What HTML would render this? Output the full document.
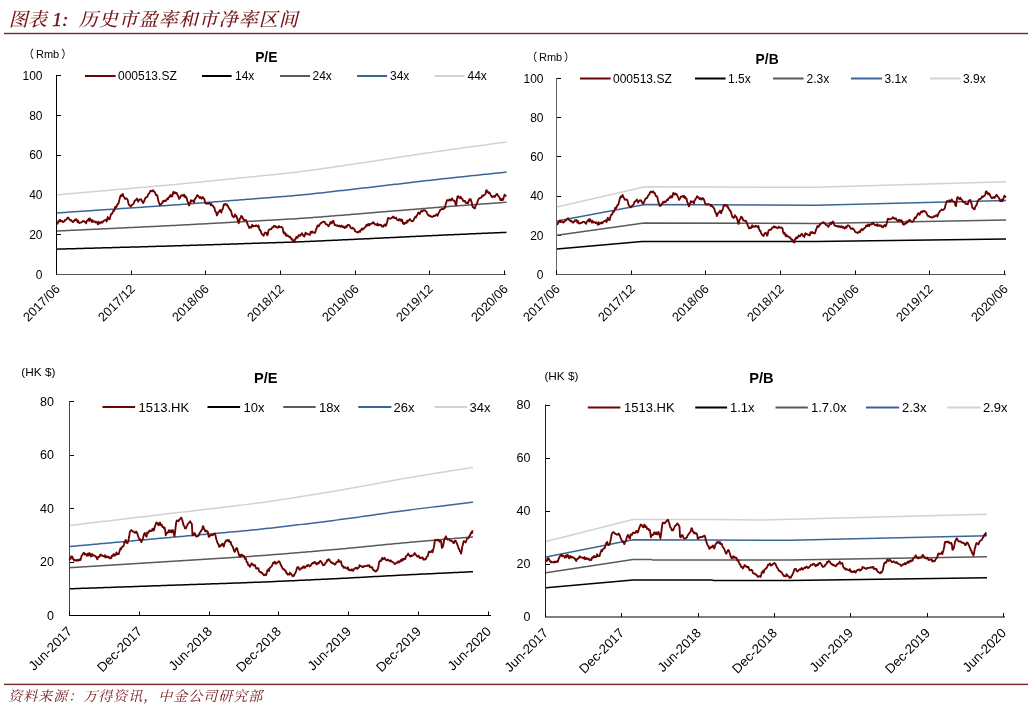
<!DOCTYPE html>
<html><head><meta charset="utf-8"><title>历史市盈率和市净率区间</title>
<style>html,body{margin:0;padding:0;background:#fff;}svg{display:block;}</style>
</head><body>
<svg width="1028" height="706" viewBox="0 0 1028 706" font-family='"Liberation Sans", Arial, sans-serif'>
<rect width="1028" height="706" fill="#fff"/>
<text x="8.8 27.8" y="26" font-size="19" fill="#761418" font-style="italic" font-weight="500" font-family='"Liberation Serif", "Noto Serif CJK SC", serif'>图表</text>
<text x="52.3" y="25.8" font-size="19.5" fill="#761418" font-style="italic" stroke="#761418" stroke-width="0.45" font-family='"Liberation Serif", "Noto Serif CJK SC", serif'>1:</text>
<text x="78.8 98.8 118.8 138.8 158.8 178.8 198.8 218.8 238.8 258.8 278.8" y="26" font-size="19" fill="#761418" font-style="italic" font-weight="500" font-family='"Liberation Serif", "Noto Serif CJK SC", serif'>历史市盈率和市净率区间</text>
<rect x="4" y="32.8" width="1024" height="1.4" fill="#7a2328"/>
<rect x="4" y="683.7" width="1024" height="1.4" fill="#7a2328"/>
<text x="8.3 23.3 38.3 53.3 68.3 83.3 98.3 113.3 128.3 143.3 158.3 173.3 188.3 203.3 218.3 233.3 248.3" y="701.3" font-size="14" fill="#761418" font-style="italic" font-family='"Liberation Serif", "Noto Serif CJK SC", serif'>资料来源：万得资讯，中金公司研究部</text>
<line x1="56.5" y1="75" x2="56.5" y2="274.5" stroke="#000" stroke-width="1"/>
<line x1="56" y1="274.5" x2="506" y2="274.5" stroke="#555" stroke-width="1"/>
<text x="42.5" y="278.8" font-size="12" text-anchor="end" font-weight="normal" fill="#000" >0</text>
<line x1="57" y1="234.5" x2="61" y2="234.5" stroke="#000" stroke-width="1"/>
<text x="42.5" y="239" font-size="12" text-anchor="end" font-weight="normal" fill="#000" >20</text>
<line x1="57" y1="194.5" x2="61" y2="194.5" stroke="#000" stroke-width="1"/>
<text x="42.5" y="199.2" font-size="12" text-anchor="end" font-weight="normal" fill="#000" >40</text>
<line x1="57" y1="155.5" x2="61" y2="155.5" stroke="#000" stroke-width="1"/>
<text x="42.5" y="159.4" font-size="12" text-anchor="end" font-weight="normal" fill="#000" >60</text>
<line x1="57" y1="115.5" x2="61" y2="115.5" stroke="#000" stroke-width="1"/>
<text x="42.5" y="119.6" font-size="12" text-anchor="end" font-weight="normal" fill="#000" >80</text>
<line x1="57" y1="75.5" x2="61" y2="75.5" stroke="#000" stroke-width="1"/>
<text x="42.5" y="79.8" font-size="12" text-anchor="end" font-weight="normal" fill="#000" >100</text>
<line x1="56.5" y1="270.5" x2="56.5" y2="274.5" stroke="#000" stroke-width="1"/>
<text class="xl" x="60.7" y="289.8" font-size="12.7" text-anchor="end" transform="rotate(-45 60.7 289.8)">2017/06</text>
<line x1="131.5" y1="270.5" x2="131.5" y2="274.5" stroke="#000" stroke-width="1"/>
<text class="xl" x="135.7" y="289.8" font-size="12.7" text-anchor="end" transform="rotate(-45 135.7 289.8)">2017/12</text>
<line x1="205.5" y1="270.5" x2="205.5" y2="274.5" stroke="#000" stroke-width="1"/>
<text class="xl" x="209.7" y="289.8" font-size="12.7" text-anchor="end" transform="rotate(-45 209.7 289.8)">2018/06</text>
<line x1="280.5" y1="270.5" x2="280.5" y2="274.5" stroke="#000" stroke-width="1"/>
<text class="xl" x="284.7" y="289.8" font-size="12.7" text-anchor="end" transform="rotate(-45 284.7 289.8)">2018/12</text>
<line x1="355.5" y1="270.5" x2="355.5" y2="274.5" stroke="#000" stroke-width="1"/>
<text class="xl" x="359.7" y="289.8" font-size="12.7" text-anchor="end" transform="rotate(-45 359.7 289.8)">2019/06</text>
<line x1="429.5" y1="270.5" x2="429.5" y2="274.5" stroke="#000" stroke-width="1"/>
<text class="xl" x="433.7" y="289.8" font-size="12.7" text-anchor="end" transform="rotate(-45 433.7 289.8)">2019/12</text>
<line x1="504.5" y1="270.5" x2="504.5" y2="274.5" stroke="#000" stroke-width="1"/>
<text class="xl" x="508.7" y="289.8" font-size="12.7" text-anchor="end" transform="rotate(-45 508.7 289.8)">2020/06</text>
<line x1="556.5" y1="78" x2="556.5" y2="274.5" stroke="#666" stroke-width="1"/>
<line x1="556" y1="274.5" x2="1006" y2="274.5" stroke="#555" stroke-width="1"/>
<text x="543.5" y="278.8" font-size="12" text-anchor="end" font-weight="normal" fill="#000" >0</text>
<line x1="557" y1="235.5" x2="561" y2="235.5" stroke="#000" stroke-width="1"/>
<text x="543.5" y="239.6" font-size="12" text-anchor="end" font-weight="normal" fill="#000" >20</text>
<line x1="557" y1="196.5" x2="561" y2="196.5" stroke="#000" stroke-width="1"/>
<text x="543.5" y="200.4" font-size="12" text-anchor="end" font-weight="normal" fill="#000" >40</text>
<line x1="557" y1="156.5" x2="561" y2="156.5" stroke="#000" stroke-width="1"/>
<text x="543.5" y="161.2" font-size="12" text-anchor="end" font-weight="normal" fill="#000" >60</text>
<line x1="557" y1="117.5" x2="561" y2="117.5" stroke="#000" stroke-width="1"/>
<text x="543.5" y="122" font-size="12" text-anchor="end" font-weight="normal" fill="#000" >80</text>
<line x1="557" y1="78.5" x2="561" y2="78.5" stroke="#000" stroke-width="1"/>
<text x="543.5" y="82.8" font-size="12" text-anchor="end" font-weight="normal" fill="#000" >100</text>
<line x1="556.5" y1="270.5" x2="556.5" y2="274.5" stroke="#000" stroke-width="1"/>
<text class="xl" x="560.7" y="289.8" font-size="12.7" text-anchor="end" transform="rotate(-45 560.7 289.8)">2017/06</text>
<line x1="631.5" y1="270.5" x2="631.5" y2="274.5" stroke="#000" stroke-width="1"/>
<text class="xl" x="635.7" y="289.8" font-size="12.7" text-anchor="end" transform="rotate(-45 635.7 289.8)">2017/12</text>
<line x1="705.5" y1="270.5" x2="705.5" y2="274.5" stroke="#000" stroke-width="1"/>
<text class="xl" x="709.7" y="289.8" font-size="12.7" text-anchor="end" transform="rotate(-45 709.7 289.8)">2018/06</text>
<line x1="780.5" y1="270.5" x2="780.5" y2="274.5" stroke="#000" stroke-width="1"/>
<text class="xl" x="784.7" y="289.8" font-size="12.7" text-anchor="end" transform="rotate(-45 784.7 289.8)">2018/12</text>
<line x1="855.5" y1="270.5" x2="855.5" y2="274.5" stroke="#000" stroke-width="1"/>
<text class="xl" x="859.7" y="289.8" font-size="12.7" text-anchor="end" transform="rotate(-45 859.7 289.8)">2019/06</text>
<line x1="929.5" y1="270.5" x2="929.5" y2="274.5" stroke="#000" stroke-width="1"/>
<text class="xl" x="933.7" y="289.8" font-size="12.7" text-anchor="end" transform="rotate(-45 933.7 289.8)">2019/12</text>
<line x1="1004.5" y1="270.5" x2="1004.5" y2="274.5" stroke="#000" stroke-width="1"/>
<text class="xl" x="1008.7" y="289.8" font-size="12.7" text-anchor="end" transform="rotate(-45 1008.7 289.8)">2020/06</text>
<line x1="69.5" y1="401" x2="69.5" y2="615.5" stroke="#444" stroke-width="1"/>
<line x1="69" y1="615.5" x2="491" y2="615.5" stroke="#000" stroke-width="1"/>
<text x="54" y="619.8" font-size="12.5" text-anchor="end" font-weight="normal" fill="#000" >0</text>
<line x1="70" y1="562.5" x2="74" y2="562.5" stroke="#000" stroke-width="1"/>
<text x="54" y="566.3" font-size="12.5" text-anchor="end" font-weight="normal" fill="#000" >20</text>
<line x1="70" y1="508.5" x2="74" y2="508.5" stroke="#000" stroke-width="1"/>
<text x="54" y="512.8" font-size="12.5" text-anchor="end" font-weight="normal" fill="#000" >40</text>
<line x1="70" y1="455.5" x2="74" y2="455.5" stroke="#000" stroke-width="1"/>
<text x="54" y="459.3" font-size="12.5" text-anchor="end" font-weight="normal" fill="#000" >60</text>
<line x1="70" y1="401.5" x2="74" y2="401.5" stroke="#000" stroke-width="1"/>
<text x="54" y="405.8" font-size="12.5" text-anchor="end" font-weight="normal" fill="#000" >80</text>
<line x1="69.5" y1="611.5" x2="69.5" y2="615.5" stroke="#000" stroke-width="1"/>
<text class="xl" x="73" y="632.3" font-size="13.2" text-anchor="end" transform="rotate(-45 73 632.3)">Jun-2017</text>
<line x1="139.5" y1="611.5" x2="139.5" y2="615.5" stroke="#000" stroke-width="1"/>
<text class="xl" x="143" y="632.3" font-size="13.2" text-anchor="end" transform="rotate(-45 143 632.3)">Dec-2017</text>
<line x1="209.5" y1="611.5" x2="209.5" y2="615.5" stroke="#000" stroke-width="1"/>
<text class="xl" x="213" y="632.3" font-size="13.2" text-anchor="end" transform="rotate(-45 213 632.3)">Jun-2018</text>
<line x1="278.5" y1="611.5" x2="278.5" y2="615.5" stroke="#000" stroke-width="1"/>
<text class="xl" x="282" y="632.3" font-size="13.2" text-anchor="end" transform="rotate(-45 282 632.3)">Dec-2018</text>
<line x1="348.5" y1="611.5" x2="348.5" y2="615.5" stroke="#000" stroke-width="1"/>
<text class="xl" x="352" y="632.3" font-size="13.2" text-anchor="end" transform="rotate(-45 352 632.3)">Jun-2019</text>
<line x1="418.5" y1="611.5" x2="418.5" y2="615.5" stroke="#000" stroke-width="1"/>
<text class="xl" x="422" y="632.3" font-size="13.2" text-anchor="end" transform="rotate(-45 422 632.3)">Dec-2019</text>
<line x1="488.5" y1="611.5" x2="488.5" y2="615.5" stroke="#000" stroke-width="1"/>
<text class="xl" x="492" y="632.3" font-size="13.2" text-anchor="end" transform="rotate(-45 492 632.3)">Jun-2020</text>
<line x1="545.5" y1="404.5" x2="545.5" y2="617" stroke="#222" stroke-width="1"/>
<line x1="545" y1="617" x2="1005" y2="617" stroke="#000" stroke-width="1"/>
<text x="530.5" y="621.3" font-size="12.5" text-anchor="end" font-weight="normal" fill="#000" >0</text>
<line x1="546" y1="564.5" x2="550" y2="564.5" stroke="#000" stroke-width="1"/>
<text x="530.5" y="568.3" font-size="12.5" text-anchor="end" font-weight="normal" fill="#000" >20</text>
<line x1="546" y1="511.5" x2="550" y2="511.5" stroke="#000" stroke-width="1"/>
<text x="530.5" y="515.3" font-size="12.5" text-anchor="end" font-weight="normal" fill="#000" >40</text>
<line x1="546" y1="458.5" x2="550" y2="458.5" stroke="#000" stroke-width="1"/>
<text x="530.5" y="462.3" font-size="12.5" text-anchor="end" font-weight="normal" fill="#000" >60</text>
<line x1="546" y1="405.5" x2="550" y2="405.5" stroke="#000" stroke-width="1"/>
<text x="530.5" y="409.3" font-size="12.5" text-anchor="end" font-weight="normal" fill="#000" >80</text>
<line x1="545.5" y1="613" x2="545.5" y2="617" stroke="#000" stroke-width="1"/>
<text class="xl" x="549" y="633.8" font-size="13.2" text-anchor="end" transform="rotate(-45 549 633.8)">Jun-2017</text>
<line x1="621.5" y1="613" x2="621.5" y2="617" stroke="#000" stroke-width="1"/>
<text class="xl" x="625" y="633.8" font-size="13.2" text-anchor="end" transform="rotate(-45 625 633.8)">Dec-2017</text>
<line x1="698.5" y1="613" x2="698.5" y2="617" stroke="#000" stroke-width="1"/>
<text class="xl" x="702" y="633.8" font-size="13.2" text-anchor="end" transform="rotate(-45 702 633.8)">Jun-2018</text>
<line x1="774.5" y1="613" x2="774.5" y2="617" stroke="#000" stroke-width="1"/>
<text class="xl" x="778" y="633.8" font-size="13.2" text-anchor="end" transform="rotate(-45 778 633.8)">Dec-2018</text>
<line x1="850.5" y1="613" x2="850.5" y2="617" stroke="#000" stroke-width="1"/>
<text class="xl" x="854" y="633.8" font-size="13.2" text-anchor="end" transform="rotate(-45 854 633.8)">Jun-2019</text>
<line x1="927.5" y1="613" x2="927.5" y2="617" stroke="#000" stroke-width="1"/>
<text class="xl" x="931" y="633.8" font-size="13.2" text-anchor="end" transform="rotate(-45 931 633.8)">Dec-2019</text>
<line x1="1003.5" y1="613" x2="1003.5" y2="617" stroke="#000" stroke-width="1"/>
<text class="xl" x="1007" y="633.8" font-size="13.2" text-anchor="end" transform="rotate(-45 1007 633.8)">Jun-2020</text>
<path d="M57 194.8 L59 194.63 L61 194.46 L63 194.28 L65 194.11 L67 193.93 L69 193.76 L71 193.59 L73 193.41 L75 193.24 L77 193.07 L79 192.89 L81 192.72 L83 192.55 L85 192.37 L87 192.2 L89 192.02 L91 191.85 L93 191.68 L95 191.5 L97 191.33 L99 191.16 L101 190.98 L103 190.81 L105 190.63 L107 190.46 L109 190.29 L111 190.11 L113 189.94 L115 189.77 L117 189.59 L119 189.42 L121 189.25 L123 189.07 L125 188.9 L127 188.72 L129 188.55 L131 188.38 L133 188.2 L135 188.03 L137 187.86 L139 187.68 L141 187.51 L143 187.33 L145 187.16 L147 186.98 L149 186.81 L151 186.63 L153 186.46 L155 186.28 L157 186.1 L159 185.92 L161 185.75 L163 185.57 L165 185.39 L167 185.2 L169 185.02 L171 184.84 L173 184.65 L175 184.47 L177 184.28 L179 184.09 L181 183.9 L183 183.71 L185 183.51 L187 183.32 L189 183.12 L191 182.93 L193 182.73 L195 182.53 L197 182.33 L199 182.13 L201 181.93 L203 181.73 L205 181.52 L207 181.32 L209 181.12 L211 180.91 L213 180.71 L215 180.51 L217 180.3 L219 180.1 L221 179.9 L223 179.69 L225 179.49 L227 179.28 L229 179.08 L231 178.88 L233 178.67 L235 178.47 L237 178.27 L239 178.06 L241 177.86 L243 177.66 L245 177.46 L247 177.25 L249 177.05 L251 176.85 L253 176.65 L255 176.45 L257 176.25 L259 176.05 L261 175.85 L263 175.65 L265 175.45 L267 175.25 L269 175.05 L271 174.85 L273 174.65 L275 174.44 L277 174.24 L279 174.03 L281 173.83 L283 173.62 L285 173.41 L287 173.19 L289 172.97 L291 172.75 L293 172.53 L295 172.3 L297 172.06 L299 171.82 L301 171.58 L303 171.33 L305 171.08 L307 170.82 L309 170.56 L311 170.29 L313 170.02 L315 169.74 L317 169.46 L319 169.18 L321 168.89 L323 168.6 L325 168.31 L327 168.02 L329 167.73 L331 167.43 L333 167.14 L335 166.84 L337 166.54 L339 166.25 L341 165.95 L343 165.65 L345 165.35 L347 165.06 L349 164.76 L351 164.46 L353 164.16 L355 163.87 L357 163.57 L359 163.27 L361 162.97 L363 162.67 L365 162.38 L367 162.08 L369 161.78 L371 161.48 L373 161.18 L375 160.88 L377 160.58 L379 160.28 L381 159.97 L383 159.67 L385 159.37 L387 159.07 L389 158.76 L391 158.46 L393 158.16 L395 157.85 L397 157.55 L399 157.24 L401 156.94 L403 156.63 L405 156.33 L407 156.03 L409 155.72 L411 155.42 L413 155.11 L415 154.81 L417 154.51 L419 154.21 L421 153.91 L423 153.61 L425 153.31 L427 153.01 L429 152.72 L431 152.42 L433 152.13 L435 151.84 L437 151.55 L439 151.26 L441 150.97 L443 150.69 L445 150.4 L447 150.12 L449 149.84 L451 149.56 L453 149.28 L455 149 L457 148.73 L459 148.45 L461 148.18 L463 147.9 L465 147.63 L467 147.36 L469 147.09 L471 146.81 L473 146.54 L475 146.27 L477 146 L479 145.73 L481 145.46 L483 145.19 L485 144.92 L487 144.65 L489 144.38 L491 144.11 L493 143.84 L495 143.57 L497 143.3 L499 143.03 L501 142.76 L503 142.49 L505 142.22 L506.5 142.01" fill="none" stroke="#d2d2d2" stroke-width="1.5" stroke-linejoin="round" />
<path d="M57 212.92 L59 212.78 L61 212.65 L63 212.51 L65 212.38 L67 212.24 L69 212.11 L71 211.98 L73 211.84 L75 211.71 L77 211.57 L79 211.44 L81 211.31 L83 211.17 L85 211.04 L87 210.9 L89 210.77 L91 210.63 L93 210.5 L95 210.37 L97 210.23 L99 210.1 L101 209.96 L103 209.83 L105 209.7 L107 209.56 L109 209.43 L111 209.29 L113 209.16 L115 209.02 L117 208.89 L119 208.76 L121 208.62 L123 208.49 L125 208.35 L127 208.22 L129 208.08 L131 207.95 L133 207.82 L135 207.68 L137 207.55 L139 207.41 L141 207.28 L143 207.14 L145 207.01 L147 206.87 L149 206.74 L151 206.6 L153 206.47 L155 206.33 L157 206.19 L159 206.06 L161 205.92 L163 205.78 L165 205.64 L167 205.5 L169 205.36 L171 205.22 L173 205.07 L175 204.93 L177 204.78 L179 204.64 L181 204.49 L183 204.34 L185 204.19 L187 204.04 L189 203.89 L191 203.74 L193 203.58 L195 203.43 L197 203.28 L199 203.12 L201 202.97 L203 202.81 L205 202.65 L207 202.5 L209 202.34 L211 202.18 L213 202.03 L215 201.87 L217 201.71 L219 201.55 L221 201.4 L223 201.24 L225 201.08 L227 200.92 L229 200.77 L231 200.61 L233 200.45 L235 200.29 L237 200.14 L239 199.98 L241 199.82 L243 199.67 L245 199.51 L247 199.36 L249 199.2 L251 199.04 L253 198.89 L255 198.73 L257 198.58 L259 198.42 L261 198.27 L263 198.11 L265 197.96 L267 197.81 L269 197.65 L271 197.5 L273 197.34 L275 197.18 L277 197.03 L279 196.87 L281 196.71 L283 196.55 L285 196.38 L287 196.22 L289 196.05 L291 195.88 L293 195.7 L295 195.53 L297 195.34 L299 195.16 L301 194.97 L303 194.78 L305 194.58 L307 194.38 L309 194.18 L311 193.97 L313 193.76 L315 193.55 L317 193.33 L319 193.11 L321 192.89 L323 192.67 L325 192.45 L327 192.22 L329 191.99 L331 191.77 L333 191.54 L335 191.31 L337 191.08 L339 190.85 L341 190.62 L343 190.39 L345 190.16 L347 189.93 L349 189.7 L351 189.47 L353 189.24 L355 189.01 L357 188.78 L359 188.55 L361 188.32 L363 188.09 L365 187.86 L367 187.63 L369 187.4 L371 187.17 L373 186.93 L375 186.7 L377 186.47 L379 186.24 L381 186 L383 185.77 L385 185.54 L387 185.3 L389 185.07 L391 184.83 L393 184.6 L395 184.36 L397 184.13 L399 183.89 L401 183.66 L403 183.42 L405 183.19 L407 182.95 L409 182.72 L411 182.48 L413 182.25 L415 182.01 L417 181.78 L419 181.55 L421 181.31 L423 181.08 L425 180.85 L427 180.62 L429 180.39 L431 180.17 L433 179.94 L435 179.71 L437 179.49 L439 179.27 L441 179.05 L443 178.83 L445 178.61 L447 178.39 L449 178.17 L451 177.95 L453 177.74 L455 177.53 L457 177.31 L459 177.1 L461 176.89 L463 176.68 L465 176.46 L467 176.25 L469 176.04 L471 175.83 L473 175.62 L475 175.41 L477 175.21 L479 175 L481 174.79 L483 174.58 L485 174.37 L487 174.16 L489 173.95 L491 173.74 L493 173.53 L495 173.32 L497 173.12 L499 172.91 L501 172.7 L503 172.49 L505 172.28 L506.5 172.12" fill="none" stroke="#3b6598" stroke-width="1.5" stroke-linejoin="round" />
<path d="M57 231.03 L59 230.93 L61 230.84 L63 230.74 L65 230.65 L67 230.56 L69 230.46 L71 230.37 L73 230.27 L75 230.18 L77 230.08 L79 229.99 L81 229.89 L83 229.8 L85 229.7 L87 229.61 L89 229.51 L91 229.42 L93 229.32 L95 229.23 L97 229.13 L99 229.04 L101 228.94 L103 228.85 L105 228.76 L107 228.66 L109 228.57 L111 228.47 L113 228.38 L115 228.28 L117 228.19 L119 228.09 L121 228 L123 227.9 L125 227.81 L127 227.71 L129 227.62 L131 227.52 L133 227.43 L135 227.33 L137 227.24 L139 227.14 L141 227.05 L143 226.95 L145 226.86 L147 226.76 L149 226.67 L151 226.57 L153 226.48 L155 226.38 L157 226.28 L159 226.19 L161 226.09 L163 225.99 L165 225.89 L167 225.79 L169 225.69 L171 225.59 L173 225.49 L175 225.39 L177 225.29 L179 225.18 L181 225.08 L183 224.98 L185 224.87 L187 224.76 L189 224.66 L191 224.55 L193 224.44 L195 224.33 L197 224.22 L199 224.12 L201 224.01 L203 223.9 L205 223.79 L207 223.67 L209 223.56 L211 223.45 L213 223.34 L215 223.23 L217 223.12 L219 223.01 L221 222.9 L223 222.79 L225 222.68 L227 222.56 L229 222.45 L231 222.34 L233 222.23 L235 222.12 L237 222.01 L239 221.9 L241 221.79 L243 221.68 L245 221.57 L247 221.46 L249 221.35 L251 221.24 L253 221.13 L255 221.02 L257 220.91 L259 220.8 L261 220.69 L263 220.58 L265 220.47 L267 220.36 L269 220.25 L271 220.14 L273 220.03 L275 219.92 L277 219.81 L279 219.7 L281 219.59 L283 219.47 L285 219.36 L287 219.24 L289 219.12 L291 219 L293 218.88 L295 218.75 L297 218.63 L299 218.5 L301 218.36 L303 218.23 L305 218.09 L307 217.95 L309 217.8 L311 217.66 L313 217.51 L315 217.36 L317 217.21 L319 217.05 L321 216.9 L323 216.74 L325 216.58 L327 216.42 L329 216.26 L331 216.1 L333 215.94 L335 215.78 L337 215.61 L339 215.45 L341 215.29 L343 215.13 L345 214.97 L347 214.8 L349 214.64 L351 214.48 L353 214.32 L355 214.15 L357 213.99 L359 213.83 L361 213.67 L363 213.5 L365 213.34 L367 213.18 L369 213.02 L371 212.85 L373 212.69 L375 212.52 L377 212.36 L379 212.2 L381 212.03 L383 211.87 L385 211.7 L387 211.54 L389 211.37 L391 211.21 L393 211.04 L395 210.87 L397 210.71 L399 210.54 L401 210.38 L403 210.21 L405 210.04 L407 209.88 L409 209.71 L411 209.55 L413 209.38 L415 209.22 L417 209.05 L419 208.89 L421 208.72 L423 208.56 L425 208.4 L427 208.23 L429 208.07 L431 207.91 L433 207.75 L435 207.59 L437 207.43 L439 207.28 L441 207.12 L443 206.96 L445 206.81 L447 206.66 L449 206.5 L451 206.35 L453 206.2 L455 206.05 L457 205.9 L459 205.75 L461 205.6 L463 205.45 L465 205.3 L467 205.15 L469 205 L471 204.85 L473 204.71 L475 204.56 L477 204.41 L479 204.26 L481 204.11 L483 203.97 L485 203.82 L487 203.67 L489 203.52 L491 203.38 L493 203.23 L495 203.08 L497 202.93 L499 202.79 L501 202.64 L503 202.49 L505 202.34 L506.5 202.23" fill="none" stroke="#5a5a5a" stroke-width="1.5" stroke-linejoin="round" />
<path d="M57 249.14 L59 249.09 L61 249.03 L63 248.98 L65 248.92 L67 248.87 L69 248.81 L71 248.76 L73 248.7 L75 248.64 L77 248.59 L79 248.53 L81 248.48 L83 248.42 L85 248.37 L87 248.31 L89 248.26 L91 248.2 L93 248.15 L95 248.09 L97 248.04 L99 247.98 L101 247.93 L103 247.87 L105 247.82 L107 247.76 L109 247.71 L111 247.65 L113 247.59 L115 247.54 L117 247.48 L119 247.43 L121 247.37 L123 247.32 L125 247.26 L127 247.21 L129 247.15 L131 247.1 L133 247.04 L135 246.99 L137 246.93 L139 246.88 L141 246.82 L143 246.76 L145 246.71 L147 246.65 L149 246.6 L151 246.54 L153 246.49 L155 246.43 L157 246.37 L159 246.32 L161 246.26 L163 246.2 L165 246.15 L167 246.09 L169 246.03 L171 245.97 L173 245.91 L175 245.85 L177 245.79 L179 245.73 L181 245.67 L183 245.61 L185 245.55 L187 245.49 L189 245.43 L191 245.36 L193 245.3 L195 245.24 L197 245.17 L199 245.11 L201 245.04 L203 244.98 L205 244.92 L207 244.85 L209 244.79 L211 244.72 L213 244.66 L215 244.59 L217 244.53 L219 244.46 L221 244.4 L223 244.33 L225 244.27 L227 244.2 L229 244.14 L231 244.07 L233 244.01 L235 243.94 L237 243.88 L239 243.82 L241 243.75 L243 243.69 L245 243.62 L247 243.56 L249 243.49 L251 243.43 L253 243.37 L255 243.3 L257 243.24 L259 243.17 L261 243.11 L263 243.05 L265 242.98 L267 242.92 L269 242.86 L271 242.79 L273 242.73 L275 242.66 L277 242.6 L279 242.53 L281 242.47 L283 242.4 L285 242.33 L287 242.27 L289 242.2 L291 242.13 L293 242.05 L295 241.98 L297 241.91 L299 241.83 L301 241.75 L303 241.67 L305 241.59 L307 241.51 L309 241.43 L311 241.34 L313 241.26 L315 241.17 L317 241.08 L319 240.99 L321 240.9 L323 240.81 L325 240.71 L327 240.62 L329 240.53 L331 240.43 L333 240.34 L335 240.24 L337 240.15 L339 240.06 L341 239.96 L343 239.87 L345 239.77 L347 239.68 L349 239.58 L351 239.49 L353 239.39 L355 239.3 L357 239.2 L359 239.11 L361 239.01 L363 238.92 L365 238.82 L367 238.73 L369 238.63 L371 238.54 L373 238.44 L375 238.35 L377 238.25 L379 238.16 L381 238.06 L383 237.96 L385 237.87 L387 237.77 L389 237.67 L391 237.58 L393 237.48 L395 237.38 L397 237.29 L399 237.19 L401 237.09 L403 237 L405 236.9 L407 236.8 L409 236.71 L411 236.61 L413 236.51 L415 236.42 L417 236.32 L419 236.23 L421 236.13 L423 236.03 L425 235.94 L427 235.84 L429 235.75 L431 235.66 L433 235.56 L435 235.47 L437 235.38 L439 235.29 L441 235.2 L443 235.1 L445 235.01 L447 234.92 L449 234.83 L451 234.75 L453 234.66 L455 234.57 L457 234.48 L459 234.39 L461 234.31 L463 234.22 L465 234.13 L467 234.05 L469 233.96 L471 233.87 L473 233.79 L475 233.7 L477 233.61 L479 233.53 L481 233.44 L483 233.36 L485 233.27 L487 233.18 L489 233.1 L491 233.01 L493 232.93 L495 232.84 L497 232.75 L499 232.67 L501 232.58 L503 232.5 L505 232.41 L506.5 232.35" fill="none" stroke="#000000" stroke-width="1.5" stroke-linejoin="round" />
<path d="M557 207 L645 186.8 L816 187.3 L1006 181.8" fill="none" stroke="#d2d2d2" stroke-width="1.5" stroke-linejoin="round" />
<path d="M557 221 L645 204.6 L816 205.2 L1006 200.5" fill="none" stroke="#3b6598" stroke-width="1.5" stroke-linejoin="round" />
<path d="M557 235.3 L644 223 L816 223.5 L1006 220" fill="none" stroke="#5a5a5a" stroke-width="1.5" stroke-linejoin="round" />
<path d="M557 249 L642 241.4 L816 241.5 L1006 239" fill="none" stroke="#000000" stroke-width="1.5" stroke-linejoin="round" />
<path d="M70 525.39 L72 525.16 L74 524.92 L76 524.68 L78 524.44 L80 524.21 L82 523.97 L84 523.73 L86 523.5 L88 523.26 L90 523.02 L92 522.79 L94 522.55 L96 522.31 L98 522.08 L100 521.84 L102 521.6 L104 521.36 L106 521.13 L108 520.89 L110 520.65 L112 520.42 L114 520.18 L116 519.94 L118 519.71 L120 519.47 L122 519.23 L124 519 L126 518.76 L128 518.52 L130 518.29 L132 518.05 L134 517.81 L136 517.57 L138 517.34 L140 517.1 L142 516.86 L144 516.63 L146 516.39 L148 516.15 L150 515.92 L152 515.68 L154 515.44 L156 515.21 L158 514.97 L160 514.73 L162 514.5 L164 514.26 L166 514.02 L168 513.79 L170 513.55 L172 513.31 L174 513.08 L176 512.84 L178 512.61 L180 512.37 L182 512.13 L184 511.9 L186 511.66 L188 511.43 L190 511.2 L192 510.96 L194 510.73 L196 510.5 L198 510.26 L200 510.03 L202 509.8 L204 509.57 L206 509.33 L208 509.1 L210 508.87 L212 508.64 L214 508.41 L216 508.18 L218 507.95 L220 507.72 L222 507.49 L224 507.25 L226 507.02 L228 506.79 L230 506.55 L232 506.32 L234 506.08 L236 505.84 L238 505.6 L240 505.36 L242 505.12 L244 504.87 L246 504.62 L248 504.37 L250 504.11 L252 503.85 L254 503.59 L256 503.32 L258 503.05 L260 502.78 L262 502.5 L264 502.22 L266 501.93 L268 501.64 L270 501.35 L272 501.06 L274 500.76 L276 500.46 L278 500.16 L280 499.86 L282 499.55 L284 499.25 L286 498.94 L288 498.63 L290 498.32 L292 498.01 L294 497.69 L296 497.38 L298 497.07 L300 496.75 L302 496.44 L304 496.12 L306 495.8 L308 495.48 L310 495.16 L312 494.84 L314 494.52 L316 494.19 L318 493.87 L320 493.54 L322 493.21 L324 492.88 L326 492.55 L328 492.22 L330 491.89 L332 491.55 L334 491.21 L336 490.87 L338 490.53 L340 490.19 L342 489.84 L344 489.5 L346 489.15 L348 488.79 L350 488.44 L352 488.08 L354 487.72 L356 487.36 L358 487 L360 486.63 L362 486.26 L364 485.89 L366 485.52 L368 485.15 L370 484.77 L372 484.4 L374 484.02 L376 483.64 L378 483.26 L380 482.89 L382 482.51 L384 482.14 L386 481.77 L388 481.39 L390 481.03 L392 480.66 L394 480.3 L396 479.93 L398 479.58 L400 479.22 L402 478.87 L404 478.52 L406 478.17 L408 477.83 L410 477.49 L412 477.15 L414 476.82 L416 476.48 L418 476.15 L420 475.82 L422 475.49 L424 475.17 L426 474.84 L428 474.52 L430 474.2 L432 473.88 L434 473.56 L436 473.24 L438 472.92 L440 472.6 L442 472.28 L444 471.96 L446 471.65 L448 471.33 L450 471.01 L452 470.7 L454 470.38 L456 470.07 L458 469.75 L460 469.44 L462 469.12 L464 468.81 L466 468.49 L468 468.18 L470 467.87 L472 467.55 L473 467.4" fill="none" stroke="#d2d2d2" stroke-width="1.5" stroke-linejoin="round" />
<path d="M70 546.52 L72 546.34 L74 546.16 L76 545.98 L78 545.8 L80 545.62 L82 545.44 L84 545.26 L86 545.07 L88 544.89 L90 544.71 L92 544.53 L94 544.35 L96 544.17 L98 543.99 L100 543.81 L102 543.62 L104 543.44 L106 543.26 L108 543.08 L110 542.9 L112 542.72 L114 542.54 L116 542.36 L118 542.18 L120 541.99 L122 541.81 L124 541.63 L126 541.45 L128 541.27 L130 541.09 L132 540.91 L134 540.73 L136 540.55 L138 540.36 L140 540.18 L142 540 L144 539.82 L146 539.64 L148 539.46 L150 539.28 L152 539.1 L154 538.91 L156 538.73 L158 538.55 L160 538.37 L162 538.19 L164 538.01 L166 537.83 L168 537.65 L170 537.47 L172 537.29 L174 537.11 L176 536.93 L178 536.75 L180 536.56 L182 536.38 L184 536.21 L186 536.03 L188 535.85 L190 535.67 L192 535.49 L194 535.31 L196 535.13 L198 534.95 L200 534.78 L202 534.6 L204 534.42 L206 534.24 L208 534.07 L210 533.89 L212 533.71 L214 533.54 L216 533.36 L218 533.18 L220 533.01 L222 532.83 L224 532.65 L226 532.48 L228 532.3 L230 532.12 L232 531.94 L234 531.76 L236 531.58 L238 531.39 L240 531.21 L242 531.02 L244 530.83 L246 530.64 L248 530.45 L250 530.25 L252 530.05 L254 529.85 L256 529.65 L258 529.44 L260 529.23 L262 529.02 L264 528.8 L266 528.58 L268 528.36 L270 528.14 L272 527.92 L274 527.69 L276 527.46 L278 527.23 L280 527 L282 526.76 L284 526.53 L286 526.29 L288 526.06 L290 525.82 L292 525.58 L294 525.34 L296 525.1 L298 524.86 L300 524.62 L302 524.38 L304 524.14 L306 523.89 L308 523.65 L310 523.41 L312 523.16 L314 522.91 L316 522.67 L318 522.42 L320 522.17 L322 521.92 L324 521.66 L326 521.41 L328 521.16 L330 520.9 L332 520.64 L334 520.39 L336 520.13 L338 519.87 L340 519.6 L342 519.34 L344 519.07 L346 518.81 L348 518.54 L350 518.27 L352 517.99 L354 517.72 L356 517.44 L358 517.16 L360 516.88 L362 516.6 L364 516.32 L366 516.03 L368 515.75 L370 515.46 L372 515.17 L374 514.89 L376 514.6 L378 514.31 L380 514.02 L382 513.73 L384 513.45 L386 513.16 L388 512.88 L390 512.6 L392 512.32 L394 512.04 L396 511.76 L398 511.49 L400 511.22 L402 510.95 L404 510.68 L406 510.42 L408 510.15 L410 509.89 L412 509.63 L414 509.38 L416 509.12 L418 508.87 L420 508.62 L422 508.37 L424 508.12 L426 507.87 L428 507.62 L430 507.37 L432 507.13 L434 506.88 L436 506.64 L438 506.39 L440 506.15 L442 505.91 L444 505.67 L446 505.42 L448 505.18 L450 504.94 L452 504.7 L454 504.46 L456 504.22 L458 503.98 L460 503.73 L462 503.49 L464 503.25 L466 503.01 L468 502.77 L470 502.53 L472 502.29 L473 502.17" fill="none" stroke="#3b6598" stroke-width="1.5" stroke-linejoin="round" />
<path d="M70 567.65 L72 567.53 L74 567.4 L76 567.28 L78 567.15 L80 567.03 L82 566.9 L84 566.78 L86 566.65 L88 566.53 L90 566.4 L92 566.28 L94 566.15 L96 566.02 L98 565.9 L100 565.77 L102 565.65 L104 565.52 L106 565.4 L108 565.27 L110 565.15 L112 565.02 L114 564.9 L116 564.77 L118 564.64 L120 564.52 L122 564.39 L124 564.27 L126 564.14 L128 564.02 L130 563.89 L132 563.77 L134 563.64 L136 563.52 L138 563.39 L140 563.26 L142 563.14 L144 563.01 L146 562.89 L148 562.76 L150 562.64 L152 562.51 L154 562.39 L156 562.26 L158 562.14 L160 562.01 L162 561.89 L164 561.76 L166 561.64 L168 561.51 L170 561.38 L172 561.26 L174 561.13 L176 561.01 L178 560.89 L180 560.76 L182 560.64 L184 560.51 L186 560.39 L188 560.26 L190 560.14 L192 560.02 L194 559.89 L196 559.77 L198 559.64 L200 559.52 L202 559.4 L204 559.28 L206 559.15 L208 559.03 L210 558.91 L212 558.79 L214 558.66 L216 558.54 L218 558.42 L220 558.3 L222 558.18 L224 558.05 L226 557.93 L228 557.81 L230 557.68 L232 557.56 L234 557.43 L236 557.31 L238 557.18 L240 557.05 L242 556.92 L244 556.79 L246 556.66 L248 556.52 L250 556.39 L252 556.25 L254 556.11 L256 555.97 L258 555.83 L260 555.68 L262 555.53 L264 555.39 L266 555.23 L268 555.08 L270 554.93 L272 554.77 L274 554.62 L276 554.46 L278 554.3 L280 554.14 L282 553.98 L284 553.81 L286 553.65 L288 553.49 L290 553.32 L292 553.16 L294 552.99 L296 552.83 L298 552.66 L300 552.49 L302 552.32 L304 552.16 L306 551.99 L308 551.82 L310 551.65 L312 551.48 L314 551.31 L316 551.14 L318 550.97 L320 550.79 L322 550.62 L324 550.44 L326 550.27 L328 550.09 L330 549.92 L332 549.74 L334 549.56 L336 549.38 L338 549.2 L340 549.02 L342 548.83 L344 548.65 L346 548.47 L348 548.28 L350 548.09 L352 547.9 L354 547.71 L356 547.52 L358 547.33 L360 547.13 L362 546.94 L364 546.74 L366 546.55 L368 546.35 L370 546.15 L372 545.95 L374 545.75 L376 545.55 L378 545.35 L380 545.15 L382 544.95 L384 544.76 L386 544.56 L388 544.36 L390 544.17 L392 543.97 L394 543.78 L396 543.59 L398 543.4 L400 543.21 L402 543.02 L404 542.84 L406 542.66 L408 542.48 L410 542.29 L412 542.12 L414 541.94 L416 541.76 L418 541.59 L420 541.41 L422 541.24 L424 541.07 L426 540.89 L428 540.72 L430 540.55 L432 540.38 L434 540.21 L436 540.04 L438 539.87 L440 539.7 L442 539.54 L444 539.37 L446 539.2 L448 539.03 L450 538.87 L452 538.7 L454 538.53 L456 538.36 L458 538.2 L460 538.03 L462 537.87 L464 537.7 L466 537.53 L468 537.37 L470 537.2 L472 537.03 L473 536.95" fill="none" stroke="#5a5a5a" stroke-width="1.5" stroke-linejoin="round" />
<path d="M70 588.79 L72 588.72 L74 588.65 L76 588.58 L78 588.51 L80 588.44 L82 588.37 L84 588.3 L86 588.23 L88 588.16 L90 588.09 L92 588.02 L94 587.95 L96 587.88 L98 587.81 L100 587.74 L102 587.67 L104 587.6 L106 587.53 L108 587.46 L110 587.39 L112 587.32 L114 587.25 L116 587.18 L118 587.11 L120 587.04 L122 586.97 L124 586.9 L126 586.83 L128 586.77 L130 586.7 L132 586.63 L134 586.56 L136 586.49 L138 586.42 L140 586.35 L142 586.28 L144 586.21 L146 586.14 L148 586.07 L150 586 L152 585.93 L154 585.86 L156 585.79 L158 585.72 L160 585.65 L162 585.58 L164 585.51 L166 585.44 L168 585.37 L170 585.3 L172 585.23 L174 585.16 L176 585.09 L178 585.03 L180 584.96 L182 584.89 L184 584.82 L186 584.75 L188 584.68 L190 584.61 L192 584.54 L194 584.47 L196 584.4 L198 584.34 L200 584.27 L202 584.2 L204 584.13 L206 584.06 L208 584 L210 583.93 L212 583.86 L214 583.79 L216 583.72 L218 583.66 L220 583.59 L222 583.52 L224 583.45 L226 583.38 L228 583.31 L230 583.25 L232 583.18 L234 583.11 L236 583.04 L238 582.97 L240 582.89 L242 582.82 L244 582.75 L246 582.68 L248 582.6 L250 582.53 L252 582.45 L254 582.37 L256 582.29 L258 582.21 L260 582.13 L262 582.05 L264 581.97 L266 581.89 L268 581.8 L270 581.72 L272 581.63 L274 581.54 L276 581.45 L278 581.37 L280 581.28 L282 581.19 L284 581.1 L286 581.01 L288 580.91 L290 580.82 L292 580.73 L294 580.64 L296 580.55 L298 580.46 L300 580.36 L302 580.27 L304 580.18 L306 580.08 L308 579.99 L310 579.89 L312 579.8 L314 579.71 L316 579.61 L318 579.51 L320 579.42 L322 579.32 L324 579.22 L326 579.13 L328 579.03 L330 578.93 L332 578.83 L334 578.73 L336 578.63 L338 578.53 L340 578.43 L342 578.33 L344 578.23 L346 578.13 L348 578.02 L350 577.92 L352 577.81 L354 577.71 L356 577.6 L358 577.49 L360 577.39 L362 577.28 L364 577.17 L366 577.06 L368 576.95 L370 576.84 L372 576.73 L374 576.62 L376 576.51 L378 576.4 L380 576.28 L382 576.17 L384 576.06 L386 575.95 L388 575.85 L390 575.74 L392 575.63 L394 575.52 L396 575.42 L398 575.31 L400 575.21 L402 575.1 L404 575 L406 574.9 L408 574.8 L410 574.7 L412 574.6 L414 574.5 L416 574.4 L418 574.3 L420 574.21 L422 574.11 L424 574.01 L426 573.92 L428 573.82 L430 573.73 L432 573.63 L434 573.54 L436 573.45 L438 573.35 L440 573.26 L442 573.16 L444 573.07 L446 572.98 L448 572.89 L450 572.79 L452 572.7 L454 572.61 L456 572.51 L458 572.42 L460 572.33 L462 572.24 L464 572.14 L466 572.05 L468 571.96 L470 571.87 L472 571.77 L473 571.73" fill="none" stroke="#000000" stroke-width="1.5" stroke-linejoin="round" />
<path d="M546 541.5 L633 519.6 L712 519.4 L760 520 L987 514.2" fill="none" stroke="#d2d2d2" stroke-width="1.5" stroke-linejoin="round" />
<path d="M546 557 L633 539.8 L790 540.2 L987 535.75" fill="none" stroke="#3b6598" stroke-width="1.5" stroke-linejoin="round" />
<path d="M546 572.8 L633 559.4 L651 559.4 L653 560.1 L790 560 L987 556.7" fill="none" stroke="#5a5a5a" stroke-width="1.5" stroke-linejoin="round" />
<path d="M546 587.8 L633 580 L712 580 L714 580.6 L790 580.5 L987 577.7" fill="none" stroke="#000000" stroke-width="1.5" stroke-linejoin="round" />
<path d="M57 223.66 L57.62 223.7 L58.24 221.53 L58.86 221.67 L59.48 220.23 L60.1 219.78 L60.72 221.54 L61.34 220.98 L61.96 220.77 L62.58 221.41 L63.2 222.06 L63.82 221.31 L64.44 221.3 L65.06 219.97 L65.68 219.81 L66.3 219.55 L66.92 218.63 L67.54 218.03 L68.16 217.58 L68.78 218.65 L69.4 219.45 L70.02 219.89 L70.64 220.6 L71.26 220.07 L71.88 221.09 L72.5 221.7 L73.12 222.14 L73.74 221.03 L74.36 220.91 L74.98 219.58 L75.6 220.19 L76.22 219.26 L76.84 219.79 L77.46 222.07 L78.08 220.59 L78.7 222.53 L79.32 223.05 L79.94 222.62 L80.56 222.59 L81.18 222.33 L81.8 222.32 L82.42 221.39 L83.04 221.15 L83.66 221.26 L84.28 221.21 L84.9 222.1 L85.52 222.06 L86.14 223.31 L86.76 221.03 L87.38 220.48 L88 220.06 L88.62 218.72 L89.24 220.91 L89.86 218.42 L90.48 219.52 L91.1 219.93 L91.72 221.91 L92.34 220.07 L92.96 221.92 L93.58 221.37 L94.2 221.67 L94.82 221.49 L95.44 222.51 L96.06 221.63 L96.68 222.22 L97.3 222.85 L97.92 224.29 L98.54 221.61 L99.16 223.45 L99.78 223.56 L100.4 222.42 L101.02 222.47 L101.64 221.67 L102.26 222.77 L102.88 221.88 L103.5 221.04 L104.12 220.54 L104.74 220.25 L105.36 220.17 L105.98 219.57 L106.6 221.51 L107.22 219.16 L107.84 217.02 L108.46 218.83 L109.08 219.39 L109.7 219.36 L110.32 216.66 L110.94 214.5 L111.56 213.92 L112.18 213.59 L112.8 211.81 L113.42 210.57 L114.04 210.98 L114.66 209.26 L115.28 206.72 L115.9 207.65 L116.52 206.74 L117.14 205.09 L117.76 203.77 L118.38 203.84 L119 201.26 L119.62 198.87 L120.24 196.55 L120.86 195.28 L121.48 196.24 L122.1 195.16 L122.72 193.93 L123.34 196 L123.96 196.8 L124.58 198.14 L125.2 198.92 L125.82 198.37 L126.44 198.39 L127.06 198.86 L127.68 199.89 L128.3 202.73 L128.92 204.72 L129.54 205.22 L130.16 205.79 L130.78 206.54 L131.4 205.61 L132.02 204.97 L132.64 204.75 L133.26 203.98 L133.88 202.95 L134.5 200.93 L135.12 200.87 L135.74 199.9 L136.36 199.37 L136.98 198.53 L137.6 200.16 L138.22 201.73 L138.84 200.34 L139.46 199.74 L140.08 199.16 L140.7 199.6 L141.32 199.51 L141.94 201.4 L142.56 201.6 L143.18 203.09 L143.8 201.74 L144.42 200.47 L145.04 198.48 L145.66 197.78 L146.28 197.25 L146.9 197.15 L147.52 196.19 L148.14 194.55 L148.76 193.9 L149.38 193.3 L150 191.43 L150.62 190.82 L151.24 190.58 L151.86 191.31 L152.48 191.29 L153.1 190.1 L153.72 191.42 L154.34 191.76 L154.96 192.18 L155.58 194.33 L156.2 195.32 L156.82 195.04 L157.44 196.09 L158.06 199.37 L158.68 201.75 L159.3 203.32 L159.92 205.19 L160.54 204.82 L161.16 204.33 L161.78 203.14 L162.4 202.7 L163.02 201.02 L163.64 201.48 L164.26 200.55 L164.88 201.1 L165.5 201.12 L166.12 200.5 L166.74 199.23 L167.36 198.62 L167.98 199.19 L168.6 197.38 L169.22 197.16 L169.84 196.49 L170.46 195.06 L171.08 196.55 L171.7 195.24 L172.32 196.21 L172.94 193.16 L173.56 191.66 L174.18 193.32 L174.8 193.4 L175.42 192.47 L176.04 193.24 L176.66 192.94 L177.28 194.49 L177.9 195.44 L178.52 196.97 L179.14 198.92 L179.76 197.95 L180.38 196.85 L181 195.62 L181.62 195.33 L182.24 195.5 L182.86 195.12 L183.48 196 L184.1 194.69 L184.72 196.95 L185.34 196 L185.96 197.6 L186.58 197.36 L187.2 200.67 L187.82 201.91 L188.44 203.74 L189.06 205.52 L189.68 203.64 L190.3 202.07 L190.92 200.18 L191.54 201.45 L192.16 200.75 L192.78 200.58 L193.4 200.94 L194.02 202.49 L194.64 199.19 L195.26 198.81 L195.88 197.49 L196.5 197.07 L197.12 195.23 L197.74 195.43 L198.36 196.23 L198.98 196.91 L199.6 198.03 L200.22 197.09 L200.84 197.95 L201.46 198.6 L202.08 197.46 L202.7 196.91 L203.32 198.27 L203.94 198.3 L204.56 199.92 L205.18 202.71 L205.8 203.22 L206.42 203.78 L207.04 203.5 L207.66 203.28 L208.28 203.53 L208.9 203.3 L209.52 203.48 L210.14 203.65 L210.76 205.06 L211.38 203.97 L212 205.28 L212.62 205.95 L213.24 205.96 L213.86 207.33 L214.48 207.99 L215.1 210.88 L215.72 211.54 L216.34 213.14 L216.96 215.44 L217.58 214.13 L218.2 212.22 L218.82 211.93 L219.44 210.93 L220.06 209.88 L220.68 211.54 L221.3 212.57 L221.92 210.1 L222.54 209.37 L223.16 207.32 L223.78 204.53 L224.4 205.03 L225.02 203.95 L225.64 203.92 L226.26 204.86 L226.88 204.39 L227.5 205.96 L228.12 205.98 L228.74 208.05 L229.36 208.44 L229.98 209.99 L230.6 209.97 L231.22 211.54 L231.84 214.4 L232.46 216.29 L233.08 216.44 L233.7 217.24 L234.32 216.5 L234.94 214.48 L235.56 216.18 L236.18 215.78 L236.8 217.08 L237.42 219.13 L238.04 221.32 L238.66 223.32 L239.28 220.93 L239.9 218.41 L240.52 218.25 L241.14 215.92 L241.76 216.71 L242.38 216.69 L243 218.85 L243.62 219.81 L244.24 220.14 L244.86 220.02 L245.48 220.2 L246.1 220.21 L246.72 221.82 L247.34 223.41 L247.96 225.14 L248.58 226.08 L249.2 227.96 L249.82 227.12 L250.44 227.57 L251.06 227.57 L251.68 225.92 L252.3 224.76 L252.92 226.56 L253.54 225.96 L254.16 226.1 L254.78 225.89 L255.4 226.11 L256.02 225.2 L256.64 225.9 L257.26 226.11 L257.88 226.72 L258.5 225.4 L259.12 228.29 L259.74 230.11 L260.36 230.2 L260.98 231.99 L261.6 233.42 L262.22 234.41 L262.84 234.49 L263.46 235.75 L264.08 234.81 L264.7 233.19 L265.32 232.46 L265.94 232.86 L266.56 232.86 L267.18 235.27 L267.8 234.38 L268.42 230.8 L269.04 229.78 L269.66 229.29 L270.28 229.44 L270.9 229.26 L271.52 228.87 L272.14 227.46 L272.76 227.33 L273.38 226.49 L274 225.73 L274.62 226.54 L275.24 226.89 L275.86 226.26 L276.48 227.16 L277.1 227.33 L277.72 227.85 L278.34 227.07 L278.96 226.08 L279.58 227.03 L280.2 227.04 L280.82 227.23 L281.44 226.92 L282.06 227.32 L282.68 228.03 L283.3 232.13 L283.92 233.25 L284.54 232.2 L285.16 233.47 L285.78 235.61 L286.4 234.23 L287.02 236 L287.64 235.59 L288.26 235.9 L288.88 236.58 L289.5 237.19 L290.12 236.82 L290.74 237.87 L291.36 238.82 L291.98 239.78 L292.6 239.26 L293.22 241.14 L293.84 242.01 L294.46 242.19 L295.08 239.13 L295.7 238.89 L296.32 236.99 L296.94 237.69 L297.56 237.77 L298.18 236.22 L298.8 235.04 L299.42 235.66 L300.04 235.91 L300.66 234.62 L301.28 234.54 L301.9 233.19 L302.52 234.28 L303.14 235.51 L303.76 235.89 L304.38 236.61 L305 234.52 L305.62 232.65 L306.24 233.83 L306.86 233.49 L307.48 233.95 L308.1 234.38 L308.72 234.37 L309.34 234.93 L309.96 234.82 L310.58 231.92 L311.2 231.66 L311.82 232.66 L312.44 231.57 L313.06 232.64 L313.68 232.55 L314.3 232.55 L314.92 232.97 L315.54 231.48 L316.16 228.99 L316.78 227.97 L317.4 225.77 L318.02 225.39 L318.64 226.27 L319.26 225.73 L319.88 224.01 L320.5 223.74 L321.12 222.85 L321.74 222.55 L322.36 222.38 L322.98 221.78 L323.6 221.61 L324.22 222.01 L324.84 222.19 L325.46 223.6 L326.08 224.29 L326.7 224.46 L327.32 224.72 L327.94 225.55 L328.56 226.33 L329.18 224.83 L329.8 224.24 L330.42 222.1 L331.04 222.09 L331.66 223.4 L332.28 221.84 L332.9 220.79 L333.52 221.26 L334.14 223.45 L334.76 225.1 L335.38 225.12 L336 225.31 L336.62 225.63 L337.24 225.28 L337.86 226.04 L338.48 226.2 L339.1 225.53 L339.72 226.12 L340.34 226.71 L340.96 226.27 L341.58 225.5 L342.2 226.44 L342.82 227.21 L343.44 226.38 L344.06 227.09 L344.68 228.05 L345.3 227.27 L345.92 226.31 L346.54 227.34 L347.16 225.6 L347.78 224.96 L348.4 224.85 L349.02 224.98 L349.64 225.71 L350.26 226.78 L350.88 228.1 L351.5 228.35 L352.12 228.3 L352.74 227.66 L353.36 228.66 L353.98 228.69 L354.6 229.71 L355.22 231.3 L355.84 231.67 L356.46 231.9 L357.08 231.97 L357.7 232.56 L358.32 232.42 L358.94 231.34 L359.56 231.04 L360.18 231.74 L360.8 229.74 L361.42 229.5 L362.04 228.47 L362.66 229.74 L363.28 229.07 L363.9 228.37 L364.52 227.7 L365.14 227.16 L365.76 226.71 L366.38 224.88 L367 225.35 L367.62 225.5 L368.24 223.89 L368.86 225.12 L369.48 225.43 L370.1 223.9 L370.72 224.01 L371.34 223.76 L371.96 223.2 L372.58 223.4 L373.2 222.13 L373.82 222.87 L374.44 223.67 L375.06 224.52 L375.68 224.49 L376.3 224.37 L376.92 225.16 L377.54 223.56 L378.16 225.33 L378.78 225.15 L379.4 224.58 L380.02 225.36 L380.64 224.89 L381.26 224.86 L381.88 226.27 L382.5 226.02 L383.12 226.86 L383.74 225.74 L384.36 224.81 L384.98 224.39 L385.6 225.94 L386.22 224.92 L386.84 223.4 L387.46 220.4 L388.08 218.02 L388.7 218.16 L389.32 218.35 L389.94 218.66 L390.56 218.59 L391.18 218.34 L391.8 217.75 L392.42 217.6 L393.04 216.59 L393.66 216.97 L394.28 218.08 L394.9 217.79 L395.52 218.2 L396.14 217.55 L396.76 219.31 L397.38 219.78 L398 220.04 L398.62 220.6 L399.24 219.06 L399.86 220.01 L400.48 219.57 L401.1 220.97 L401.72 219.56 L402.34 220.53 L402.96 223.53 L403.58 222.85 L404.2 224.19 L404.82 222.98 L405.44 222.96 L406.06 222.23 L406.68 222.9 L407.3 220.53 L407.92 221.51 L408.54 220.38 L409.16 220.31 L409.78 219.04 L410.4 219.88 L411.02 220.43 L411.64 221.12 L412.26 221.36 L412.88 221.03 L413.5 220.45 L414.12 218.92 L414.74 217.54 L415.36 216.68 L415.98 217.55 L416.6 215.84 L417.22 214.94 L417.84 213.66 L418.46 212.41 L419.08 213.21 L419.7 214.07 L420.32 212.57 L420.94 211.28 L421.56 210.7 L422.18 211.59 L422.8 210.6 L423.42 210.18 L424.04 210.66 L424.66 210.11 L425.28 210.6 L425.9 211.14 L426.52 211.93 L427.14 213.42 L427.76 214.52 L428.38 215.48 L429 215.11 L429.62 215.82 L430.24 216.36 L430.86 216.29 L431.48 216.58 L432.1 217.01 L432.72 216.55 L433.34 216.3 L433.96 215.43 L434.58 216.1 L435.2 215.77 L435.82 215.11 L436.44 214.19 L437.06 214.62 L437.68 215.72 L438.3 213.82 L438.92 212.3 L439.54 211.42 L440.16 210.04 L440.78 209.98 L441.4 209.19 L442.02 208.73 L442.64 209.1 L443.26 209.15 L443.88 208.81 L444.5 208.08 L445.12 207.36 L445.74 203.87 L446.36 202.29 L446.98 200.26 L447.6 200.16 L448.22 200.58 L448.84 200.57 L449.46 199.36 L450.08 199.81 L450.7 200.54 L451.32 199.74 L451.94 198.44 L452.56 199.73 L453.18 200.2 L453.8 200.72 L454.42 200.65 L455.04 201.74 L455.66 204.62 L456.28 205.22 L456.9 199.59 L457.52 196.37 L458.14 196.11 L458.76 197.45 L459.38 197.25 L460 198.17 L460.62 196.66 L461.24 198.2 L461.86 198.78 L462.48 199.07 L463.1 200.92 L463.72 201.2 L464.34 201.02 L464.96 200.87 L465.58 202.82 L466.2 202.89 L466.82 203.14 L467.44 202.44 L468.06 203.32 L468.68 201.31 L469.3 199.44 L469.92 199.74 L470.54 198.97 L471.16 201.2 L471.78 202.62 L472.4 206.04 L473.02 207.26 L473.64 207.35 L474.26 208.38 L474.88 208.43 L475.5 206.02 L476.12 205.02 L476.74 204.24 L477.36 202.38 L477.98 199.98 L478.6 199.23 L479.22 198.35 L479.84 197.99 L480.46 197.99 L481.08 197.59 L481.7 196.99 L482.32 195.37 L482.94 196.02 L483.56 195.53 L484.18 194.91 L484.8 194.55 L485.42 194.14 L486.04 190.76 L486.66 190.17 L487.28 191.94 L487.9 191.6 L488.52 193.26 L489.14 192.43 L489.76 192.78 L490.38 194.25 L491 195.68 L491.62 196.5 L492.24 197.31 L492.86 196.7 L493.48 196.15 L494.1 196.03 L494.72 196.92 L495.34 196.12 L495.96 194.82 L496.58 194.08 L497.2 193.9 L497.82 195.54 L498.44 195.94 L499.06 196.87 L499.68 197.71 L500.3 200.1 L500.92 199.56 L501.54 200.23 L502.16 198.58 L502.78 199.98 L503.4 198.86 L504.02 196.47 L504.64 194.67 L505.26 195.34 L505.88 195.94 L506.48 196.15" fill="none" stroke="#6c0202" stroke-width="1.85" stroke-linejoin="round" />
<path d="M557 224.24 L557.62 224.28 L558.24 222.15 L558.86 222.28 L559.47 220.86 L560.09 220.43 L560.71 222.15 L561.33 221.6 L561.95 221.39 L562.57 222.02 L563.19 222.67 L563.81 221.93 L564.43 221.92 L565.05 220.61 L565.67 220.45 L566.29 220.19 L566.91 219.3 L567.53 218.7 L568.15 218.26 L568.77 219.31 L569.39 220.1 L570.01 220.53 L570.63 221.23 L571.25 220.71 L571.87 221.71 L572.49 222.31 L573.11 222.74 L573.73 221.65 L574.35 221.53 L574.97 220.23 L575.59 220.83 L576.21 219.91 L576.83 220.44 L577.44 222.68 L578.06 221.22 L578.68 223.13 L579.3 223.64 L579.92 223.21 L580.54 223.19 L581.16 222.93 L581.78 222.92 L582.4 222.01 L583.02 221.77 L583.64 221.88 L584.26 221.83 L584.88 222.71 L585.5 222.67 L586.12 223.89 L586.74 221.65 L587.36 221.11 L587.98 220.7 L588.6 219.38 L589.22 221.54 L589.84 219.08 L590.46 220.17 L591.08 220.57 L591.7 222.52 L592.32 220.71 L592.94 222.53 L593.56 221.98 L594.18 222.28 L594.8 222.1 L595.41 223.11 L596.03 222.25 L596.65 222.83 L597.27 223.45 L597.89 224.86 L598.51 222.23 L599.13 224.03 L599.75 224.14 L600.37 223.02 L600.99 223.07 L601.61 222.28 L602.23 223.36 L602.85 222.48 L603.47 221.67 L604.09 221.17 L604.71 220.88 L605.33 220.81 L605.95 220.21 L606.57 222.12 L607.19 219.81 L607.81 217.71 L608.43 219.49 L609.05 220.04 L609.67 220.01 L610.29 217.36 L610.91 215.23 L611.53 214.66 L612.15 214.34 L612.77 212.58 L613.38 211.37 L614 211.77 L614.62 210.08 L615.24 207.57 L615.86 208.49 L616.48 207.59 L617.1 205.97 L617.72 204.68 L618.34 204.74 L618.96 202.2 L619.58 199.86 L620.2 197.58 L620.82 196.32 L621.44 197.27 L622.06 196.2 L622.68 195 L623.3 197.03 L623.92 197.82 L624.54 199.14 L625.16 199.9 L625.78 199.36 L626.4 199.39 L627.02 199.84 L627.64 200.86 L628.26 203.65 L628.88 205.61 L629.5 206.1 L630.12 206.66 L630.74 207.4 L631.35 206.49 L631.97 205.86 L632.59 205.63 L633.21 204.88 L633.83 203.87 L634.45 201.89 L635.07 201.82 L635.69 200.87 L636.31 200.35 L636.93 199.52 L637.55 201.12 L638.17 202.67 L638.79 201.3 L639.41 200.71 L640.03 200.14 L640.65 200.57 L641.27 200.48 L641.89 202.35 L642.51 202.54 L643.13 204.01 L643.75 202.68 L644.37 201.43 L644.99 199.48 L645.61 198.78 L646.23 198.26 L646.85 198.16 L647.47 197.22 L648.09 195.61 L648.71 194.97 L649.32 194.37 L649.94 192.53 L650.56 191.94 L651.18 191.7 L651.8 192.42 L652.42 192.39 L653.04 191.22 L653.66 192.52 L654.28 192.86 L654.9 193.28 L655.52 195.39 L656.14 196.36 L656.76 196.09 L657.38 197.12 L658 200.34 L658.62 202.69 L659.24 204.23 L659.86 206.08 L660.48 205.7 L661.1 205.23 L661.72 204.06 L662.34 203.62 L662.96 201.97 L663.58 202.42 L664.2 201.51 L664.82 202.05 L665.44 202.06 L666.06 201.46 L666.68 200.21 L667.29 199.61 L667.91 200.17 L668.53 198.39 L669.15 198.18 L669.77 197.52 L670.39 196.11 L671.01 197.58 L671.63 196.29 L672.25 197.24 L672.87 194.23 L673.49 192.77 L674.11 194.4 L674.73 194.47 L675.35 193.56 L675.97 194.32 L676.59 194.02 L677.21 195.55 L677.83 196.48 L678.45 197.98 L679.07 199.91 L679.69 198.95 L680.31 197.87 L680.93 196.66 L681.55 196.38 L682.17 196.54 L682.79 196.16 L683.41 197.03 L684.03 195.74 L684.64 197.97 L685.26 197.03 L685.88 198.6 L686.5 198.37 L687.12 201.63 L687.74 202.84 L688.36 204.65 L688.98 206.39 L689.6 204.55 L690.22 203.01 L690.84 201.15 L691.46 202.39 L692.08 201.7 L692.7 201.54 L693.32 201.89 L693.94 203.41 L694.56 200.17 L695.18 199.8 L695.8 198.5 L696.42 198.09 L697.04 196.28 L697.66 196.48 L698.28 197.26 L698.9 197.92 L699.52 199.03 L700.14 198.11 L700.76 198.95 L701.38 199.59 L702 198.47 L702.61 197.93 L703.23 199.26 L703.85 199.29 L704.47 200.88 L705.09 203.63 L705.71 204.14 L706.33 204.68 L706.95 204.41 L707.57 204.19 L708.19 204.44 L708.81 204.21 L709.43 204.39 L710.05 204.55 L710.67 205.94 L711.29 204.87 L711.91 206.16 L712.53 206.81 L713.15 206.83 L713.77 208.18 L714.39 208.82 L715.01 211.67 L715.63 212.32 L716.25 213.89 L716.87 216.15 L717.49 214.86 L718.11 212.98 L718.73 212.7 L719.35 211.72 L719.97 210.69 L720.58 212.32 L721.2 213.34 L721.82 210.9 L722.44 210.18 L723.06 208.17 L723.68 205.42 L724.3 205.91 L724.92 204.86 L725.54 204.82 L726.16 205.75 L726.78 205.29 L727.4 206.83 L728.02 206.85 L728.64 208.89 L729.26 209.27 L729.88 210.79 L730.5 210.77 L731.12 212.31 L731.74 215.13 L732.36 216.99 L732.98 217.14 L733.6 217.93 L734.22 217.19 L734.84 215.21 L735.46 216.88 L736.08 216.49 L736.7 217.76 L737.32 219.79 L737.94 221.93 L738.55 223.91 L739.17 221.55 L739.79 219.08 L740.41 218.92 L741.03 216.63 L741.65 217.4 L742.27 217.39 L742.89 219.51 L743.51 220.45 L744.13 220.77 L744.75 220.66 L745.37 220.84 L745.99 220.84 L746.61 222.43 L747.23 224 L747.85 225.69 L748.47 226.62 L749.09 228.47 L749.71 227.65 L750.33 228.08 L750.95 228.09 L751.57 226.47 L752.19 225.32 L752.81 227.09 L753.43 226.5 L754.05 226.64 L754.67 226.43 L755.29 226.65 L755.91 225.75 L756.52 226.44 L757.14 226.65 L757.76 227.25 L758.38 225.95 L759 228.8 L759.62 230.58 L760.24 230.68 L760.86 232.43 L761.48 233.85 L762.1 234.82 L762.72 234.89 L763.34 236.14 L763.96 235.21 L764.58 233.61 L765.2 232.89 L765.82 233.29 L766.44 233.29 L767.06 235.66 L767.68 234.79 L768.3 231.27 L768.92 230.26 L769.54 229.77 L770.16 229.92 L770.78 229.75 L771.4 229.36 L772.02 227.98 L772.64 227.85 L773.26 227.03 L773.88 226.27 L774.49 227.07 L775.11 227.42 L775.73 226.8 L776.35 227.68 L776.97 227.85 L777.59 228.36 L778.21 227.59 L778.83 226.62 L779.45 227.56 L780.07 227.57 L780.69 227.75 L781.31 227.45 L781.93 227.84 L782.55 228.54 L783.17 232.57 L783.79 233.67 L784.41 232.64 L785.03 233.89 L785.65 236 L786.27 234.63 L786.89 236.38 L787.51 235.98 L788.13 236.28 L788.75 236.95 L789.37 237.55 L789.99 237.18 L790.61 238.22 L791.23 239.15 L791.85 240.1 L792.46 239.58 L793.08 241.44 L793.7 242.29 L794.32 242.47 L794.94 239.46 L795.56 239.23 L796.18 237.35 L796.8 238.04 L797.42 238.12 L798.04 236.59 L798.66 235.44 L799.28 236.05 L799.9 236.29 L800.52 235.02 L801.14 234.94 L801.76 233.62 L802.38 234.69 L803 235.9 L803.62 236.27 L804.24 236.98 L804.86 234.92 L805.48 233.08 L806.1 234.25 L806.72 233.91 L807.34 234.37 L807.96 234.78 L808.58 234.77 L809.2 235.33 L809.82 235.22 L810.43 232.37 L811.05 232.11 L811.67 233.09 L812.29 232.02 L812.91 233.07 L813.53 232.99 L814.15 232.98 L814.77 233.4 L815.39 231.93 L816.01 229.48 L816.63 228.48 L817.25 226.32 L817.87 225.94 L818.49 226.81 L819.11 226.28 L819.73 224.58 L820.35 224.32 L820.97 223.45 L821.59 223.15 L822.21 222.98 L822.83 222.39 L823.45 222.22 L824.07 222.62 L824.69 222.8 L825.31 224.18 L825.93 224.86 L826.55 225.03 L827.17 225.29 L827.79 226.1 L828.4 226.87 L829.02 225.39 L829.64 224.81 L830.26 222.71 L830.88 222.69 L831.5 223.98 L832.12 222.45 L832.74 221.42 L833.36 221.88 L833.98 224.04 L834.6 225.66 L835.22 225.68 L835.84 225.86 L836.46 226.18 L837.08 225.84 L837.7 226.58 L838.32 226.74 L838.94 226.08 L839.56 226.66 L840.18 227.24 L840.8 226.81 L841.42 226.05 L842.04 226.98 L842.66 227.74 L843.28 226.91 L843.9 227.62 L844.52 228.56 L845.14 227.79 L845.76 226.85 L846.37 227.86 L846.99 226.15 L847.61 225.52 L848.23 225.41 L848.85 225.54 L849.47 226.26 L850.09 227.31 L850.71 228.6 L851.33 228.85 L851.95 228.81 L852.57 228.17 L853.19 229.16 L853.81 229.18 L854.43 230.19 L855.05 231.75 L855.67 232.12 L856.29 232.34 L856.91 232.42 L857.53 233 L858.15 232.85 L858.77 231.8 L859.39 231.5 L860.01 232.19 L860.63 230.22 L861.25 229.98 L861.87 228.97 L862.49 230.22 L863.11 229.56 L863.73 228.87 L864.34 228.22 L864.96 227.69 L865.58 227.24 L866.2 225.44 L866.82 225.9 L867.44 226.05 L868.06 224.47 L868.68 225.68 L869.3 225.99 L869.92 224.48 L870.54 224.59 L871.16 224.34 L871.78 223.79 L872.4 223.98 L873.02 222.73 L873.64 223.46 L874.26 224.25 L874.88 225.09 L875.5 225.06 L876.12 224.94 L876.74 225.72 L877.36 224.14 L877.98 225.88 L878.6 225.71 L879.22 225.14 L879.84 225.91 L880.46 225.45 L881.08 225.42 L881.69 226.81 L882.31 226.56 L882.93 227.39 L883.55 226.28 L884.17 225.37 L884.79 224.96 L885.41 226.49 L886.03 225.48 L886.65 223.99 L887.27 221.03 L887.89 218.69 L888.51 218.83 L889.13 219.02 L889.75 219.32 L890.37 219.25 L890.99 219 L891.61 218.43 L892.23 218.28 L892.85 217.28 L893.47 217.66 L894.09 218.75 L894.71 218.47 L895.33 218.87 L895.95 218.23 L896.57 219.96 L897.19 220.42 L897.81 220.68 L898.43 221.24 L899.05 219.71 L899.66 220.65 L900.28 220.22 L900.9 221.59 L901.52 220.2 L902.14 221.16 L902.76 224.12 L903.38 223.45 L904 224.76 L904.62 223.57 L905.24 223.55 L905.86 222.83 L906.48 223.49 L907.1 221.16 L907.72 222.12 L908.34 221.02 L908.96 220.94 L909.58 219.7 L910.2 220.52 L910.82 221.06 L911.44 221.74 L912.06 221.98 L912.68 221.66 L913.3 221.08 L913.92 219.58 L914.54 218.22 L915.16 217.38 L915.78 218.23 L916.4 216.55 L917.02 215.66 L917.63 214.41 L918.25 213.18 L918.87 213.96 L919.49 214.81 L920.11 213.34 L920.73 212.06 L921.35 211.49 L921.97 212.37 L922.59 211.39 L923.21 210.98 L923.83 211.45 L924.45 210.92 L925.07 211.39 L925.69 211.92 L926.31 212.7 L926.93 214.17 L927.55 215.25 L928.17 216.2 L928.79 215.83 L929.41 216.52 L930.03 217.06 L930.65 216.99 L931.27 217.27 L931.89 217.7 L932.51 217.25 L933.13 217 L933.75 216.14 L934.37 216.8 L934.99 216.48 L935.6 215.83 L936.22 214.93 L936.84 215.35 L937.46 216.43 L938.08 214.56 L938.7 213.06 L939.32 212.2 L939.94 210.84 L940.56 210.79 L941.18 210.01 L941.8 209.56 L942.42 209.92 L943.04 209.97 L943.66 209.64 L944.28 208.92 L944.9 208.2 L945.52 204.77 L946.14 203.22 L946.76 201.22 L947.38 201.12 L948 201.53 L948.62 201.53 L949.24 200.33 L949.86 200.78 L950.48 201.5 L951.1 200.71 L951.72 199.43 L952.34 200.7 L952.96 201.17 L953.57 201.68 L954.19 201.6 L954.81 202.68 L955.43 205.51 L956.05 206.1 L956.67 200.56 L957.29 197.4 L957.91 197.14 L958.53 198.46 L959.15 198.26 L959.77 199.16 L960.39 197.68 L961.01 199.19 L961.63 199.77 L962.25 200.05 L962.87 201.87 L963.49 202.15 L964.11 201.97 L964.73 201.83 L965.35 203.74 L965.97 203.81 L966.59 204.06 L967.21 203.36 L967.83 204.24 L968.45 202.26 L969.07 200.41 L969.69 200.71 L970.31 199.96 L970.93 202.14 L971.54 203.54 L972.16 206.91 L972.78 208.11 L973.4 208.19 L974.02 209.21 L974.64 209.26 L975.26 206.88 L975.88 205.9 L976.5 205.14 L977.12 203.31 L977.74 200.94 L978.36 200.21 L978.98 199.34 L979.6 198.99 L980.22 198.99 L980.84 198.59 L981.46 198 L982.08 196.42 L982.7 197.05 L983.32 196.57 L983.94 195.96 L984.56 195.6 L985.18 195.2 L985.8 191.88 L986.42 191.3 L987.04 193.04 L987.66 192.7 L988.28 194.33 L988.9 193.52 L989.51 193.87 L990.13 195.31 L990.75 196.72 L991.37 197.53 L991.99 198.32 L992.61 197.72 L993.23 197.18 L993.85 197.07 L994.47 197.94 L995.09 197.15 L995.71 195.87 L996.33 195.14 L996.95 194.97 L997.57 196.58 L998.19 196.97 L998.81 197.89 L999.43 198.71 L1000.05 201.07 L1000.67 200.53 L1001.29 201.2 L1001.91 199.57 L1002.53 200.95 L1003.15 199.84 L1003.77 197.5 L1004.39 195.73 L1005.01 196.38 L1005.63 196.98 L1006.22 197.18" fill="none" stroke="#6c0202" stroke-width="1.85" stroke-linejoin="round" />
<path d="M69.49 560.14 L70.07 558.74 L70.65 558.88 L71.23 556.28 L71.81 557.56 L72.39 556.61 L72.97 558.99 L73.55 559.33 L74.13 560.56 L74.71 559.82 L75.29 560.47 L75.87 560.41 L76.45 560.27 L77.03 560.8 L77.61 559.69 L78.19 559.82 L78.77 560.51 L79.35 560.12 L79.93 559.31 L80.51 559.96 L81.09 557.84 L81.67 555.85 L82.25 554.97 L82.83 553.9 L83.41 553.28 L83.99 552.71 L84.57 554.49 L85.15 553.91 L85.73 554.01 L86.31 554.6 L86.89 555.86 L87.47 554.45 L88.05 553.58 L88.63 555.53 L89.21 553.18 L89.79 553.11 L90.37 554.47 L90.95 556.54 L91.53 555.22 L92.11 554.02 L92.69 555.79 L93.27 555.35 L93.85 555.2 L94.43 555.69 L95.01 555.89 L95.59 556.54 L96.17 556.6 L96.75 558.29 L97.33 559.29 L97.91 557.9 L98.49 556.73 L99.07 556.9 L99.65 556.45 L100.23 554.84 L100.81 554.4 L101.39 555.62 L101.97 555.51 L102.55 555.53 L103.13 556.16 L103.71 556.43 L104.29 556.66 L104.87 555.21 L105.45 557.47 L106.03 557.09 L106.61 556.16 L107.19 557.22 L107.77 557.09 L108.35 556.74 L108.93 557.32 L109.51 558.38 L110.09 557.4 L110.67 557.77 L111.25 558.27 L111.83 555.93 L112.41 555.31 L112.99 555.92 L113.57 554.12 L114.15 554.42 L114.73 555.53 L115.31 555.38 L115.89 554.7 L116.47 552.32 L117.05 554.39 L117.63 553.96 L118.21 554.15 L118.79 554.14 L119.37 551.66 L119.95 549.72 L120.53 548.2 L121.11 549.32 L121.69 547.51 L122.27 546.94 L122.85 546.35 L123.43 546.33 L124.01 544.18 L124.59 541.74 L125.17 540.96 L125.75 539.91 L126.33 542.53 L126.91 543 L127.49 543.2 L128.07 541.76 L128.65 539.18 L129.23 536.26 L129.81 532.22 L130.39 531.14 L130.97 530.13 L131.55 530.09 L132.13 530.77 L132.71 531.09 L133.29 531.96 L133.87 532.05 L134.45 532.59 L135.03 532.46 L135.61 532.76 L136.19 531.51 L136.77 532.47 L137.35 533.4 L137.93 535.88 L138.51 537.19 L139.09 538.54 L139.67 539.76 L140.25 539.26 L140.83 540.57 L141.41 542.18 L141.99 540.22 L142.57 539.67 L143.15 537.91 L143.73 534.86 L144.31 533.65 L144.89 532.99 L145.47 534.9 L146.05 536.02 L146.63 536.65 L147.21 532.38 L147.79 532.73 L148.37 532.86 L148.95 531.47 L149.53 530.42 L150.11 530.58 L150.69 530.99 L151.27 530.89 L151.85 530.77 L152.43 528.87 L153.01 528.76 L153.59 530.5 L154.17 529.64 L154.75 526.81 L155.33 525.39 L155.91 523.61 L156.49 522.42 L157.07 522.9 L157.65 523.22 L158.23 524.85 L158.81 525.22 L159.39 523.19 L159.97 522.47 L160.55 525.09 L161.13 524.43 L161.71 524.55 L162.29 526.9 L162.87 527.07 L163.45 526.87 L164.03 528.29 L164.61 527.64 L165.19 530.46 L165.77 535.27 L166.35 533.57 L166.93 532.67 L167.51 533.1 L168.09 532.21 L168.67 530.47 L169.25 530.23 L169.83 531.98 L170.41 532.09 L170.99 530.44 L171.57 532.46 L172.15 530.93 L172.73 530 L173.31 531.77 L173.89 534.1 L174.47 536.3 L175.05 532.11 L175.63 526.88 L176.21 522.31 L176.79 520.43 L177.37 521.04 L177.95 520.76 L178.53 521.21 L179.11 519.91 L179.69 519.57 L180.27 518.8 L180.85 517.9 L181.43 517.66 L182.01 519.5 L182.59 521.14 L183.17 524.19 L183.75 525.66 L184.33 525.96 L184.91 528.35 L185.49 528.23 L186.07 528.33 L186.65 526.52 L187.23 525.32 L187.81 523.92 L188.39 523.4 L188.97 522.88 L189.55 521.91 L190.13 521.28 L190.71 522.56 L191.29 523.14 L191.87 524.09 L192.45 534.8 L193.03 535.41 L193.61 533.96 L194.19 533.1 L194.77 533.1 L195.35 535.33 L195.93 536.25 L196.51 536.57 L197.09 536.43 L197.67 536.3 L198.25 536 L198.83 535.2 L199.41 533.31 L199.99 532.65 L200.57 531.64 L201.15 530.95 L201.73 529.89 L202.31 528.88 L202.89 526.08 L203.47 526.68 L204.05 529.17 L204.63 529.76 L205.21 531.38 L205.79 530.44 L206.37 530.91 L206.95 531.76 L207.53 531.29 L208.11 532.79 L208.69 536.76 L209.27 536.74 L209.85 535.81 L210.43 535.24 L211.01 535.21 L211.59 534.85 L212.17 535.2 L212.75 535.23 L213.33 534.51 L213.91 534.38 L214.49 533.62 L215.07 533.85 L215.65 536.04 L216.23 539.06 L216.81 540.74 L217.39 542.42 L217.97 543.87 L218.55 544.28 L219.13 546.91 L219.71 546.58 L220.29 545.82 L220.87 545.03 L221.45 545.49 L222.03 544.2 L222.61 543.58 L223.19 545.41 L223.77 546.62 L224.35 544.34 L224.93 542.4 L225.51 541.71 L226.09 540.35 L226.67 540.77 L227.25 539.91 L227.83 540.7 L228.41 541.32 L228.99 540.07 L229.57 542.1 L230.15 542.15 L230.73 542.02 L231.31 544.71 L231.89 545.47 L232.47 546.11 L233.05 547.56 L233.63 549.4 L234.21 551.08 L234.79 551.85 L235.37 550.23 L235.95 549.11 L236.53 548 L237.11 548.53 L237.69 550.69 L238.27 552.3 L238.85 554.61 L239.43 556 L240.01 556.54 L240.59 555.53 L241.17 554.46 L241.75 555.91 L242.33 555.03 L242.91 555.77 L243.49 556.02 L244.07 555.94 L244.65 558.12 L245.23 559.09 L245.81 558.32 L246.39 560.74 L246.97 562.48 L247.55 562.41 L248.13 564.96 L248.71 565.33 L249.29 565.12 L249.87 566.78 L250.45 565.94 L251.03 564.62 L251.61 563.26 L252.19 564.33 L252.77 564.18 L253.35 565.3 L253.93 565.59 L254.51 565.09 L255.09 565.26 L255.67 567.51 L256.25 568.63 L256.83 568.67 L257.41 568.21 L257.99 568 L258.57 568.97 L259.15 571.41 L259.73 571.87 L260.31 571.99 L260.89 571.84 L261.47 572.94 L262.05 572.68 L262.63 573.47 L263.21 574.48 L263.79 575.28 L264.37 575.04 L264.95 574.54 L265.53 574.49 L266.11 575.22 L266.69 573.28 L267.27 570.39 L267.85 570.79 L268.43 569.09 L269.01 571 L269.59 568.41 L270.17 567.54 L270.75 566.82 L271.33 566.84 L271.91 565.86 L272.49 564.33 L273.07 562.81 L273.65 563.08 L274.23 562.32 L274.81 561.63 L275.39 563.69 L275.97 563.39 L276.55 563.52 L277.13 562.35 L277.71 562.28 L278.29 561.67 L278.87 561.27 L279.45 561.67 L280.03 562.81 L280.61 564.37 L281.19 565.92 L281.77 566.39 L282.35 567.77 L282.93 569.09 L283.51 569.26 L284.09 569.29 L284.67 570.46 L285.25 570.47 L285.83 571.13 L286.41 573.02 L286.99 573.2 L287.57 574.56 L288.15 574.27 L288.73 574.4 L289.31 574.68 L289.89 572.54 L290.47 573.87 L291.05 573.78 L291.63 574.76 L292.21 575.58 L292.79 576.29 L293.37 575.25 L293.95 575.87 L294.53 574.14 L295.11 573.59 L295.69 572.03 L296.27 570.77 L296.85 568.32 L297.43 567.14 L298.01 567.58 L298.59 567.21 L299.17 569.38 L299.75 569.83 L300.33 569.37 L300.91 568.91 L301.49 567.89 L302.07 567.49 L302.65 568.09 L303.23 566.89 L303.81 566.29 L304.39 567.69 L304.97 567.93 L305.55 566.82 L306.13 566.39 L306.71 565.75 L307.29 566.24 L307.87 564.92 L308.45 565.04 L309.03 565.46 L309.61 566.41 L310.19 565.54 L310.77 565.67 L311.35 564.58 L311.93 563.69 L312.51 563 L313.09 562.94 L313.67 563.35 L314.25 562.14 L314.83 562.03 L315.41 562.53 L315.99 563.56 L316.57 564.46 L317.15 563.34 L317.73 563.71 L318.31 562.57 L318.89 563.21 L319.47 561.92 L320.05 561.12 L320.63 560.87 L321.21 562.1 L321.79 562.46 L322.37 564.06 L322.95 565.13 L323.53 565.21 L324.11 564.78 L324.69 564.71 L325.27 563.1 L325.85 562.71 L326.43 562.17 L327.01 560.08 L327.59 560.81 L328.17 559.82 L328.75 559.13 L329.33 559.77 L329.91 560.81 L330.49 561.73 L331.07 562.55 L331.65 562.15 L332.23 563.2 L332.81 563.55 L333.39 563.25 L333.97 563.61 L334.55 564.55 L335.13 564.57 L335.71 563.74 L336.29 562.34 L336.87 561.97 L337.45 561.99 L338.03 561.23 L338.61 559.74 L339.19 561.96 L339.77 561.58 L340.35 561.47 L340.93 561.25 L341.51 563.84 L342.09 565.71 L342.67 566.61 L343.25 566.26 L343.83 567.89 L344.41 567.67 L344.99 567.24 L345.57 567.74 L346.15 568.17 L346.73 568.35 L347.31 568.83 L347.89 567.28 L348.47 569.8 L349.05 569.3 L349.63 570.27 L350.21 569.75 L350.79 570.4 L351.37 570.29 L351.95 569.2 L352.53 570.29 L353.11 570.86 L353.69 569.75 L354.27 568.62 L354.85 568.63 L355.43 567.95 L356.01 567.93 L356.59 567.76 L357.17 568.92 L357.75 568.53 L358.33 567.64 L358.91 567.57 L359.49 565.17 L360.07 565.72 L360.65 565.8 L361.23 566.35 L361.81 566.77 L362.39 566.79 L362.97 567.27 L363.55 566.16 L364.13 566.45 L364.71 566.17 L365.29 566.11 L365.87 566.21 L366.45 565.65 L367.03 565.7 L367.61 565.4 L368.19 565.97 L368.77 565.19 L369.35 565.18 L369.93 567.37 L370.51 566.94 L371.09 566.99 L371.67 567.71 L372.25 567.28 L372.83 569.22 L373.41 570.09 L373.99 570.25 L374.57 570.9 L375.15 571.17 L375.73 571.65 L376.31 570.38 L376.89 570.74 L377.47 569.72 L378.05 568.34 L378.63 565.39 L379.21 561.65 L379.79 561.58 L380.37 560.39 L380.95 561.08 L381.53 559.96 L382.11 557.9 L382.69 558.26 L383.27 559.16 L383.85 558.67 L384.43 557.75 L385.01 558.74 L385.59 559.22 L386.17 560.25 L386.75 560.37 L387.33 560.2 L387.91 559.47 L388.49 560.2 L389.07 560.66 L389.65 560.75 L390.23 561.23 L390.81 560.35 L391.39 561.51 L391.97 561.64 L392.55 562.18 L393.13 562.36 L393.71 562.55 L394.29 563.31 L394.87 564.19 L395.45 563.31 L396.03 563.33 L396.61 562.38 L397.19 562.77 L397.77 562.47 L398.35 561.27 L398.93 562.55 L399.51 561.34 L400.09 561.51 L400.67 560.41 L401.25 559.59 L401.83 560.97 L402.41 559.83 L402.99 558.84 L403.57 559.78 L404.15 559.03 L404.73 558.47 L405.31 558.92 L405.89 556.54 L406.47 555.85 L407.05 555.37 L407.63 554.52 L408.21 553.5 L408.79 555.05 L409.37 555.26 L409.95 556.32 L410.53 556.65 L411.11 555.41 L411.69 556.07 L412.27 555.85 L412.85 555.45 L413.43 554.77 L414.01 554.64 L414.59 553.01 L415.17 553.89 L415.75 554.72 L416.33 555.17 L416.91 556.27 L417.49 556.44 L418.07 556.81 L418.65 555.77 L419.23 556.58 L419.81 558.04 L420.39 558.19 L420.97 557.76 L421.55 557.79 L422.13 557.7 L422.71 557.46 L423.29 559.63 L423.87 558.88 L424.45 559.61 L425.03 559.44 L425.61 559.42 L426.19 558.05 L426.77 556.8 L427.35 556.47 L427.93 555.47 L428.51 552.92 L429.09 551.49 L429.67 552.15 L430.25 552.12 L430.83 551.82 L431.41 551.85 L431.99 550.45 L432.57 552.27 L433.15 549.82 L433.73 547.64 L434.31 544.6 L434.89 540.29 L435.47 540.47 L436.05 539.81 L436.63 540.03 L437.21 539.76 L437.79 540.48 L438.37 539.79 L438.95 540.61 L439.53 541.67 L440.11 541.13 L440.69 540.8 L441.27 542.65 L441.85 547.96 L442.43 547.18 L443.01 546.39 L443.59 543.22 L444.17 539.78 L444.75 538.36 L445.33 537.41 L445.91 536.32 L446.49 538.01 L447.07 538.82 L447.65 539.63 L448.23 539.45 L448.81 539.44 L449.39 539.52 L449.97 540.59 L450.55 540.65 L451.13 540.98 L451.71 540.73 L452.29 541.42 L452.87 541.86 L453.45 543.14 L454.03 543.08 L454.61 541.01 L455.19 540.6 L455.77 540.89 L456.35 542.33 L456.93 543.52 L457.51 545.27 L458.09 546.39 L458.67 548.75 L459.25 548.88 L459.83 551.41 L460.41 551.53 L460.99 553.63 L461.57 551.57 L462.15 547.1 L462.73 545.2 L463.31 542.37 L463.89 541.08 L464.47 541.79 L465.05 541.59 L465.63 542.51 L466.21 540.98 L466.79 539.2 L467.37 538.63 L467.95 538.31 L468.53 537.93 L469.11 537.01 L469.69 535.32 L470.27 535.1 L470.85 533.05 L471.43 532.13 L472.01 533.01 L472.59 530.41 L472.65 530.35" fill="none" stroke="#6c0202" stroke-width="1.85" stroke-linejoin="round" />
<path d="M545.74 561.91 L546.38 560.52 L547.01 560.67 L547.64 558.09 L548.28 559.36 L548.91 558.42 L549.55 560.77 L550.18 561.11 L550.81 562.33 L551.45 561.6 L552.08 562.24 L552.71 562.18 L553.35 562.05 L553.98 562.57 L554.61 561.46 L555.25 561.6 L555.88 562.28 L556.51 561.89 L557.15 561.1 L557.78 561.74 L558.42 559.63 L559.05 557.67 L559.68 556.79 L560.32 555.73 L560.95 555.11 L561.58 554.55 L562.22 556.32 L562.85 555.74 L563.48 555.83 L564.12 556.42 L564.75 557.67 L565.38 556.27 L566.02 555.41 L566.65 557.34 L567.29 555.02 L567.92 554.94 L568.55 556.3 L569.19 558.35 L569.82 557.04 L570.45 555.85 L571.09 557.6 L571.72 557.16 L572.35 557.02 L572.99 557.51 L573.62 557.7 L574.25 558.34 L574.89 558.4 L575.52 560.08 L576.16 561.07 L576.79 559.69 L577.42 558.53 L578.06 558.7 L578.69 558.26 L579.32 556.66 L579.96 556.22 L580.59 557.44 L581.22 557.33 L581.86 557.34 L582.49 557.97 L583.12 558.24 L583.76 558.47 L584.39 557.03 L585.03 559.27 L585.66 558.9 L586.29 557.97 L586.93 559.02 L587.56 558.89 L588.19 558.55 L588.83 559.12 L589.46 560.17 L590.09 559.2 L590.73 559.57 L591.36 560.06 L591.99 557.75 L592.63 557.13 L593.26 557.73 L593.9 555.95 L594.53 556.24 L595.16 557.34 L595.8 557.2 L596.43 556.52 L597.06 554.17 L597.7 556.22 L598.33 555.79 L598.96 555.98 L599.6 555.97 L600.23 553.51 L600.86 551.58 L601.5 550.07 L602.13 551.19 L602.77 549.39 L603.4 548.82 L604.03 548.24 L604.67 548.23 L605.3 546.09 L605.93 543.67 L606.57 542.9 L607.2 541.86 L607.83 544.45 L608.47 544.92 L609.1 545.12 L609.74 543.7 L610.37 541.14 L611 538.24 L611.64 534.24 L612.27 533.17 L612.9 532.17 L613.54 532.12 L614.17 532.79 L614.8 533.11 L615.44 533.97 L616.07 534.07 L616.7 534.6 L617.34 534.48 L617.97 534.77 L618.61 533.53 L619.24 534.49 L619.87 535.41 L620.51 537.87 L621.14 539.16 L621.77 540.5 L622.41 541.71 L623.04 541.21 L623.67 542.52 L624.31 544.11 L624.94 542.17 L625.57 541.62 L626.21 539.88 L626.84 536.85 L627.48 535.66 L628.11 535 L628.74 536.89 L629.38 538 L630.01 538.63 L630.64 534.39 L631.28 534.74 L631.91 534.87 L632.54 533.49 L633.18 532.45 L633.81 532.61 L634.44 533.02 L635.08 532.92 L635.71 532.8 L636.35 530.92 L636.98 530.81 L637.61 532.53 L638.25 531.68 L638.88 528.87 L639.51 527.47 L640.15 525.7 L640.78 524.52 L641.41 525 L642.05 525.31 L642.68 526.93 L643.31 527.29 L643.95 525.28 L644.58 524.57 L645.22 527.16 L645.85 526.52 L646.48 526.63 L647.12 528.96 L647.75 529.13 L648.38 528.94 L649.02 530.34 L649.65 529.7 L650.28 532.49 L650.92 537.26 L651.55 535.57 L652.18 534.68 L652.82 535.11 L653.45 534.23 L654.09 532.5 L654.72 532.27 L655.35 533.99 L655.99 534.1 L656.62 532.47 L657.25 534.47 L657.89 532.96 L658.52 532.03 L659.15 533.79 L659.79 536.09 L660.42 538.28 L661.05 534.13 L661.69 528.94 L662.32 524.41 L662.96 522.55 L663.59 523.15 L664.22 522.87 L664.86 523.32 L665.49 522.03 L666.12 521.69 L666.76 520.93 L667.39 520.04 L668.02 519.8 L668.66 521.62 L669.29 523.25 L669.92 526.28 L670.56 527.73 L671.19 528.03 L671.83 530.4 L672.46 530.28 L673.09 530.37 L673.73 528.59 L674.36 527.39 L674.99 526 L675.63 525.5 L676.26 524.98 L676.89 524.02 L677.53 523.39 L678.16 524.66 L678.79 525.24 L679.43 526.17 L680.06 536.8 L680.7 537.4 L681.33 535.96 L681.96 535.11 L682.6 535.11 L683.23 537.32 L683.86 538.23 L684.5 538.54 L685.13 538.41 L685.76 538.28 L686.4 537.98 L687.03 537.19 L687.66 535.32 L688.3 534.66 L688.93 533.66 L689.57 532.98 L690.2 531.93 L690.83 530.93 L691.47 528.15 L692.1 528.74 L692.73 531.22 L693.37 531.8 L694 533.4 L694.63 532.47 L695.27 532.94 L695.9 533.78 L696.53 533.32 L697.17 534.8 L697.8 538.74 L698.44 538.72 L699.07 537.79 L699.7 537.23 L700.34 537.2 L700.97 536.85 L701.6 537.19 L702.24 537.22 L702.87 536.5 L703.5 536.38 L704.14 535.62 L704.77 535.85 L705.4 538.02 L706.04 541.02 L706.67 542.68 L707.31 544.35 L707.94 545.78 L708.57 546.19 L709.21 548.8 L709.84 548.47 L710.47 547.71 L711.11 546.94 L711.74 547.39 L712.37 546.11 L713.01 545.5 L713.64 547.31 L714.28 548.51 L714.91 546.25 L715.54 544.33 L716.18 543.64 L716.81 542.3 L717.44 542.71 L718.08 541.86 L718.71 542.64 L719.34 543.26 L719.98 542.01 L720.61 544.03 L721.24 544.08 L721.88 543.95 L722.51 546.62 L723.15 547.37 L723.78 548 L724.41 549.45 L725.05 551.27 L725.68 552.94 L726.31 553.7 L726.95 552.09 L727.58 550.98 L728.21 549.88 L728.85 550.4 L729.48 552.54 L730.11 554.14 L730.75 556.43 L731.38 557.81 L732.02 558.35 L732.65 557.35 L733.28 556.29 L733.92 557.72 L734.55 556.85 L735.18 557.58 L735.82 557.83 L736.45 557.75 L737.08 559.91 L737.72 560.87 L738.35 560.11 L738.98 562.51 L739.62 564.23 L740.25 564.16 L740.89 566.69 L741.52 567.06 L742.15 566.85 L742.79 568.49 L743.42 567.67 L744.05 566.36 L744.69 565.01 L745.32 566.07 L745.95 565.92 L746.59 567.03 L747.22 567.32 L747.85 566.82 L748.49 566.99 L749.12 569.22 L749.76 570.33 L750.39 570.37 L751.02 569.92 L751.66 569.71 L752.29 570.67 L752.92 573.09 L753.56 573.55 L754.19 573.66 L754.82 573.51 L755.46 574.6 L756.09 574.35 L756.72 575.12 L757.36 576.14 L757.99 576.93 L758.63 576.68 L759.26 576.19 L759.89 576.14 L760.53 576.87 L761.16 574.94 L761.79 572.08 L762.43 572.47 L763.06 570.79 L763.69 572.68 L764.33 570.11 L764.96 569.25 L765.59 568.54 L766.23 568.56 L766.86 567.59 L767.5 566.07 L768.13 564.56 L768.76 564.83 L769.4 564.07 L770.03 563.39 L770.66 565.43 L771.3 565.14 L771.93 565.26 L772.56 564.1 L773.2 564.03 L773.83 563.43 L774.46 563.04 L775.1 563.43 L775.73 564.56 L776.37 566.1 L777 567.65 L777.63 568.11 L778.27 569.48 L778.9 570.78 L779.53 570.96 L780.17 570.99 L780.8 572.15 L781.43 572.15 L782.07 572.81 L782.7 574.68 L783.33 574.87 L783.97 576.21 L784.6 575.93 L785.24 576.05 L785.87 576.33 L786.5 574.21 L787.14 575.52 L787.77 575.44 L788.4 576.41 L789.04 577.22 L789.67 577.92 L790.3 576.9 L790.94 577.51 L791.57 575.79 L792.2 575.24 L792.84 573.7 L793.47 572.46 L794.11 570.02 L794.74 568.86 L795.37 569.3 L796.01 568.92 L796.64 571.07 L797.27 571.52 L797.91 571.07 L798.54 570.61 L799.17 569.59 L799.81 569.2 L800.44 569.79 L801.07 568.61 L801.71 568.02 L802.34 569.4 L802.98 569.64 L803.61 568.54 L804.24 568.11 L804.88 567.48 L805.51 567.96 L806.14 566.65 L806.78 566.77 L807.41 567.19 L808.04 568.13 L808.68 567.27 L809.31 567.4 L809.94 566.32 L810.58 565.43 L811.21 564.75 L811.85 564.69 L812.48 565.09 L813.11 563.9 L813.75 563.79 L814.38 564.28 L815.01 565.31 L815.65 566.2 L816.28 565.09 L816.91 565.46 L817.55 564.32 L818.18 564.96 L818.81 563.68 L819.45 562.89 L820.08 562.64 L820.72 563.86 L821.35 564.21 L821.98 565.8 L822.62 566.87 L823.25 566.94 L823.88 566.52 L824.52 566.44 L825.15 564.85 L825.78 564.46 L826.42 563.93 L827.05 561.86 L827.69 562.58 L828.32 561.6 L828.95 560.92 L829.59 561.54 L830.22 562.58 L830.85 563.49 L831.49 564.3 L832.12 563.9 L832.75 564.95 L833.39 565.3 L834.02 565 L834.65 565.36 L835.29 566.29 L835.92 566.31 L836.56 565.48 L837.19 564.1 L837.82 563.73 L838.46 563.75 L839.09 563 L839.72 561.52 L840.36 563.72 L840.99 563.35 L841.62 563.23 L842.26 563.01 L842.89 565.58 L843.52 567.44 L844.16 568.32 L844.79 567.98 L845.43 569.59 L846.06 569.38 L846.69 568.95 L847.33 569.45 L847.96 569.88 L848.59 570.05 L849.23 570.53 L849.86 568.99 L850.49 571.49 L851.13 571 L851.76 571.96 L852.39 571.44 L853.03 572.09 L853.66 571.98 L854.3 570.9 L854.93 571.98 L855.56 572.54 L856.2 571.44 L856.83 570.32 L857.46 570.33 L858.1 569.66 L858.73 569.64 L859.36 569.47 L860 570.62 L860.63 570.24 L861.26 569.35 L861.9 569.28 L862.53 566.91 L863.17 567.45 L863.8 567.53 L864.43 568.07 L865.07 568.48 L865.7 568.5 L866.33 568.99 L866.97 567.88 L867.6 568.18 L868.23 567.89 L868.87 567.84 L869.5 567.93 L870.13 567.38 L870.77 567.42 L871.4 567.13 L872.04 567.69 L872.67 566.92 L873.3 566.91 L873.94 569.08 L874.57 568.66 L875.2 568.7 L875.84 569.42 L876.47 569 L877.1 570.91 L877.74 571.78 L878.37 571.94 L879 572.58 L879.64 572.85 L880.27 573.32 L880.91 572.07 L881.54 572.42 L882.17 571.42 L882.81 570.04 L883.44 567.12 L884.07 563.41 L884.71 563.35 L885.34 562.16 L885.97 562.85 L886.61 561.73 L887.24 559.69 L887.87 560.05 L888.51 560.94 L889.14 560.46 L889.78 559.55 L890.41 560.53 L891.04 561.01 L891.68 562.02 L892.31 562.15 L892.94 561.98 L893.58 561.25 L894.21 561.98 L894.84 562.43 L895.48 562.52 L896.11 563 L896.74 562.12 L897.38 563.27 L898.01 563.4 L898.65 563.94 L899.28 564.11 L899.91 564.3 L900.55 565.06 L901.18 565.93 L901.81 565.06 L902.45 565.08 L903.08 564.13 L903.71 564.53 L904.35 564.22 L904.98 563.03 L905.61 564.3 L906.25 563.1 L906.88 563.28 L907.52 562.18 L908.15 561.36 L908.78 562.74 L909.42 561.61 L910.05 560.63 L910.68 561.56 L911.32 560.81 L911.95 560.26 L912.58 560.7 L913.22 558.35 L913.85 557.66 L914.48 557.19 L915.12 556.34 L915.75 555.33 L916.39 556.87 L917.02 557.08 L917.65 558.13 L918.29 558.45 L918.92 557.23 L919.55 557.88 L920.19 557.66 L920.82 557.26 L921.45 556.6 L922.09 556.46 L922.72 554.85 L923.35 555.72 L923.99 556.54 L924.62 556.98 L925.26 558.08 L925.89 558.24 L926.52 558.61 L927.16 557.59 L927.79 558.39 L928.42 559.83 L929.06 559.98 L929.69 559.56 L930.32 559.58 L930.96 559.5 L931.59 559.26 L932.23 561.41 L932.86 560.66 L933.49 561.39 L934.13 561.22 L934.76 561.2 L935.39 559.84 L936.03 558.61 L936.66 558.28 L937.29 557.29 L937.93 554.76 L938.56 553.34 L939.19 553.99 L939.83 553.96 L940.46 553.67 L941.1 553.69 L941.73 552.31 L942.36 554.11 L943 551.69 L943.63 549.52 L944.26 546.51 L944.9 542.24 L945.53 542.41 L946.16 541.76 L946.8 541.98 L947.43 541.72 L948.06 542.42 L948.7 541.74 L949.33 542.55 L949.97 543.6 L950.6 543.07 L951.23 542.74 L951.87 544.57 L952.5 549.84 L953.13 549.06 L953.77 548.28 L954.4 545.14 L955.03 541.73 L955.67 540.32 L956.3 539.39 L956.93 538.3 L957.57 539.98 L958.2 540.78 L958.84 541.58 L959.47 541.41 L960.1 541.4 L960.74 541.47 L961.37 542.54 L962 542.59 L962.64 542.92 L963.27 542.67 L963.9 543.35 L964.54 543.8 L965.17 545.06 L965.8 545 L966.44 542.95 L967.07 542.55 L967.71 542.84 L968.34 544.25 L968.97 545.44 L969.61 547.17 L970.24 548.28 L970.87 550.62 L971.51 550.76 L972.14 553.26 L972.77 553.38 L973.41 555.46 L974.04 553.42 L974.67 548.99 L975.31 547.1 L975.94 544.3 L976.58 543.02 L977.21 543.72 L977.84 543.52 L978.48 544.44 L979.11 542.92 L979.74 541.15 L980.38 540.59 L981.01 540.27 L981.64 539.9 L982.28 538.99 L982.91 537.31 L983.54 537.09 L984.18 535.06 L984.81 534.14 L985.45 535.02 L986.08 532.44 L986.14 532.38" fill="none" stroke="#6c0202" stroke-width="1.85" stroke-linejoin="round" />
<line x1="85" y1="76" x2="115.6" y2="76" stroke="#6c0202" stroke-width="2"/>
<text x="118" y="80.3" font-size="12" text-anchor="start" font-weight="normal" fill="#000" >000513.SZ</text>
<line x1="202" y1="76" x2="231.6" y2="76" stroke="#000000" stroke-width="2"/>
<text x="235" y="80.3" font-size="12" text-anchor="start" font-weight="normal" fill="#000" >14x</text>
<line x1="280" y1="76" x2="310.1" y2="76" stroke="#5a5a5a" stroke-width="2"/>
<text x="312.5" y="80.3" font-size="12" text-anchor="start" font-weight="normal" fill="#000" >24x</text>
<line x1="357" y1="76" x2="387.1" y2="76" stroke="#3b6598" stroke-width="2"/>
<text x="390" y="80.3" font-size="12" text-anchor="start" font-weight="normal" fill="#000" >34x</text>
<line x1="434.5" y1="76" x2="464.6" y2="76" stroke="#d2d2d2" stroke-width="2"/>
<text x="467.5" y="80.3" font-size="12" text-anchor="start" font-weight="normal" fill="#000" >44x</text>
<line x1="580" y1="78.5" x2="610.6" y2="78.5" stroke="#6c0202" stroke-width="2"/>
<text x="613" y="82.8" font-size="12" text-anchor="start" font-weight="normal" fill="#000" >000513.SZ</text>
<line x1="695" y1="78.5" x2="725.6" y2="78.5" stroke="#000000" stroke-width="2"/>
<text x="728" y="82.8" font-size="12" text-anchor="start" font-weight="normal" fill="#000" >1.5x</text>
<line x1="773" y1="78.5" x2="803.6" y2="78.5" stroke="#5a5a5a" stroke-width="2"/>
<text x="806.5" y="82.8" font-size="12" text-anchor="start" font-weight="normal" fill="#000" >2.3x</text>
<line x1="851" y1="78.5" x2="882.1" y2="78.5" stroke="#3b6598" stroke-width="2"/>
<text x="884.5" y="82.8" font-size="12" text-anchor="start" font-weight="normal" fill="#000" >3.1x</text>
<line x1="930" y1="78.5" x2="960.6" y2="78.5" stroke="#d2d2d2" stroke-width="2"/>
<text x="963" y="82.8" font-size="12" text-anchor="start" font-weight="normal" fill="#000" >3.9x</text>
<line x1="102.5" y1="407" x2="135.1" y2="407" stroke="#6c0202" stroke-width="2"/>
<text x="138.5" y="411.6" font-size="13" text-anchor="start" font-weight="normal" fill="#000" >1513.HK</text>
<line x1="207.5" y1="407" x2="240.1" y2="407" stroke="#000000" stroke-width="2"/>
<text x="243.5" y="411.6" font-size="13" text-anchor="start" font-weight="normal" fill="#000" >10x</text>
<line x1="283.25" y1="407" x2="315.6" y2="407" stroke="#5a5a5a" stroke-width="2"/>
<text x="319" y="411.6" font-size="13" text-anchor="start" font-weight="normal" fill="#000" >18x</text>
<line x1="358.25" y1="407" x2="391.35" y2="407" stroke="#3b6598" stroke-width="2"/>
<text x="393.5" y="411.6" font-size="13" text-anchor="start" font-weight="normal" fill="#000" >26x</text>
<line x1="434.5" y1="407" x2="467.1" y2="407" stroke="#d2d2d2" stroke-width="2"/>
<text x="469.5" y="411.6" font-size="13" text-anchor="start" font-weight="normal" fill="#000" >34x</text>
<line x1="587.75" y1="407.5" x2="620.35" y2="407.5" stroke="#6c0202" stroke-width="2"/>
<text x="624" y="412.1" font-size="13" text-anchor="start" font-weight="normal" fill="#000" >1513.HK</text>
<line x1="695.25" y1="407.5" x2="727.1" y2="407.5" stroke="#000000" stroke-width="2"/>
<text x="730" y="412.1" font-size="13" text-anchor="start" font-weight="normal" fill="#000" >1.1x</text>
<line x1="775.5" y1="407.5" x2="807.85" y2="407.5" stroke="#5a5a5a" stroke-width="2"/>
<text x="811" y="412.1" font-size="13" text-anchor="start" font-weight="normal" fill="#000" >1.7.0x</text>
<line x1="866" y1="407.5" x2="899.1" y2="407.5" stroke="#3b6598" stroke-width="2"/>
<text x="902" y="412.1" font-size="13" text-anchor="start" font-weight="normal" fill="#000" >2.3x</text>
<line x1="947.25" y1="407.5" x2="980.35" y2="407.5" stroke="#d2d2d2" stroke-width="2"/>
<text x="983" y="412.1" font-size="13" text-anchor="start" font-weight="normal" fill="#000" >2.9x</text>
<text x="266.3" y="62" font-size="13.8" text-anchor="middle" font-weight="bold" fill="#000" >P/E</text>
<text x="767.1" y="63.8" font-size="13.8" text-anchor="middle" font-weight="bold" fill="#000" >P/B</text>
<text x="265.8" y="383.3" font-size="14.6" text-anchor="middle" font-weight="bold" fill="#000" >P/E</text>
<text x="761.5" y="383" font-size="14.6" text-anchor="middle" font-weight="bold" fill="#000" >P/B</text>
<text x="23.1" y="57.7" font-size="11" font-family='"Liberation Sans", "Noto Sans CJK SC", sans-serif'>（</text>
<text x="36" y="57.7" font-size="11" font-family='"Liberation Sans", "Noto Sans CJK SC", sans-serif'>Rmb</text>
<text x="61.2" y="57.7" font-size="11" font-family='"Liberation Sans", "Noto Sans CJK SC", sans-serif'>）</text>
<text x="526.2" y="60.7" font-size="11" font-family='"Liberation Sans", "Noto Sans CJK SC", sans-serif'>（</text>
<text x="539" y="60.7" font-size="11" font-family='"Liberation Sans", "Noto Sans CJK SC", sans-serif'>Rmb</text>
<text x="564" y="60.7" font-size="11" font-family='"Liberation Sans", "Noto Sans CJK SC", sans-serif'>）</text>
<text x="21.3" y="376" font-size="11.8" text-anchor="start" font-weight="normal" fill="#000" >(HK $)</text>
<text x="544.4" y="380" font-size="11.8" text-anchor="start" font-weight="normal" fill="#000" >(HK $)</text>
</svg>
</body></html>
